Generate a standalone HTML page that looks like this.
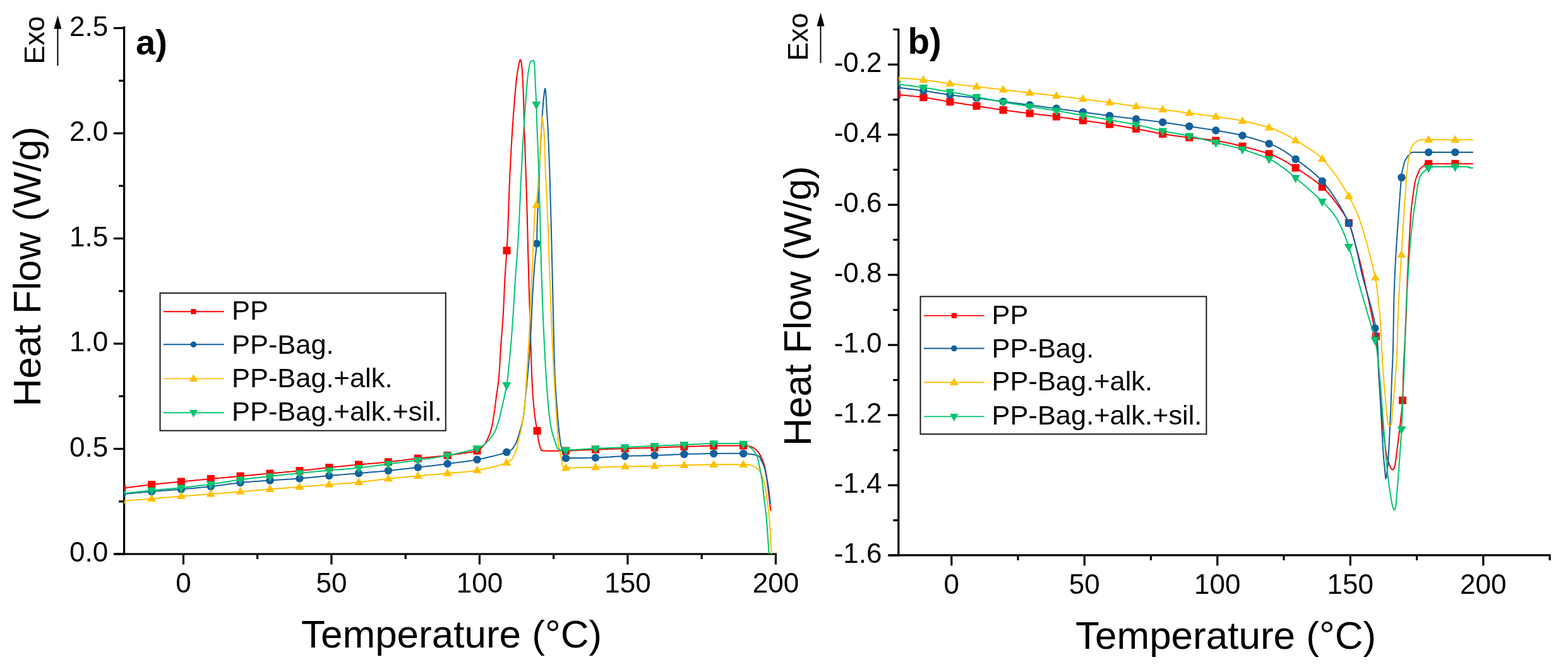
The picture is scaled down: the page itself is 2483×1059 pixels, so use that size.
<!DOCTYPE html>
<html><head><meta charset="utf-8"><title>DSC curves</title>
<style>html,body{margin:0;padding:0;background:#fff;}svg{display:block;}</style></head>
<body><svg width="2483" height="1059" viewBox="0 0 2483 1059" font-family='"Liberation Sans", Arial, sans-serif' fill="#000">
<rect width="2483" height="1059" fill="#fff"/>
<defs><clipPath id="ca"><rect x="196.6" y="30" width="1032" height="847"/></clipPath><clipPath id="cb"><rect x="1422.8" y="30" width="1032" height="849"/></clipPath></defs>
<line x1="196.6" y1="41.75" x2="196.6" y2="878.5" stroke="#000" stroke-width="3.2"/>
<line x1="181.6" y1="877.0" x2="1229.9" y2="877.0" stroke="#000" stroke-width="3.2"/>
<line x1="179.79999999999998" y1="877.0" x2="196.6" y2="877.0" stroke="#000" stroke-width="3.2"/>
<text x="171.2" y="889.0" text-anchor="end" font-size="44">0.0</text>
<line x1="179.79999999999998" y1="710.5" x2="196.6" y2="710.5" stroke="#000" stroke-width="3.2"/>
<text x="171.2" y="722.5" text-anchor="end" font-size="44">0.5</text>
<line x1="179.79999999999998" y1="544.0" x2="196.6" y2="544.0" stroke="#000" stroke-width="3.2"/>
<text x="171.2" y="556.0" text-anchor="end" font-size="44">1.0</text>
<line x1="179.79999999999998" y1="377.5" x2="196.6" y2="377.5" stroke="#000" stroke-width="3.2"/>
<text x="171.2" y="389.5" text-anchor="end" font-size="44">1.5</text>
<line x1="179.79999999999998" y1="211.0" x2="196.6" y2="211.0" stroke="#000" stroke-width="3.2"/>
<text x="171.2" y="223.0" text-anchor="end" font-size="44">2.0</text>
<line x1="179.79999999999998" y1="44.5" x2="196.6" y2="44.5" stroke="#000" stroke-width="3.2"/>
<text x="171.2" y="56.5" text-anchor="end" font-size="44">2.5</text>
<line x1="188.1" y1="793.8" x2="196.6" y2="793.8" stroke="#000" stroke-width="3.2"/>
<line x1="188.1" y1="627.2" x2="196.6" y2="627.2" stroke="#000" stroke-width="3.2"/>
<line x1="188.1" y1="460.8" x2="196.6" y2="460.8" stroke="#000" stroke-width="3.2"/>
<line x1="188.1" y1="294.2" x2="196.6" y2="294.2" stroke="#000" stroke-width="3.2"/>
<line x1="188.1" y1="127.8" x2="196.6" y2="127.8" stroke="#000" stroke-width="3.2"/>
<line x1="290.4" y1="877.0" x2="290.4" y2="893.5" stroke="#000" stroke-width="3.2"/>
<text x="290.4" y="938.3" text-anchor="middle" font-size="44">0</text>
<line x1="524.9" y1="877.0" x2="524.9" y2="893.5" stroke="#000" stroke-width="3.2"/>
<text x="524.9" y="938.3" text-anchor="middle" font-size="44">50</text>
<line x1="759.4" y1="877.0" x2="759.4" y2="893.5" stroke="#000" stroke-width="3.2"/>
<text x="759.4" y="938.3" text-anchor="middle" font-size="44">100</text>
<line x1="993.9" y1="877.0" x2="993.9" y2="893.5" stroke="#000" stroke-width="3.2"/>
<text x="993.9" y="938.3" text-anchor="middle" font-size="44">150</text>
<line x1="1228.4" y1="877.0" x2="1228.4" y2="893.5" stroke="#000" stroke-width="3.2"/>
<text x="1228.4" y="938.3" text-anchor="middle" font-size="44">200</text>
<line x1="407.6" y1="877.0" x2="407.6" y2="885.0" stroke="#000" stroke-width="3.2"/>
<line x1="642.2" y1="877.0" x2="642.2" y2="885.0" stroke="#000" stroke-width="3.2"/>
<line x1="876.6" y1="877.0" x2="876.6" y2="885.0" stroke="#000" stroke-width="3.2"/>
<line x1="1111.2" y1="877.0" x2="1111.2" y2="885.0" stroke="#000" stroke-width="3.2"/>
<line x1="1422.8" y1="45.2" x2="1422.8" y2="880.4" stroke="#000" stroke-width="3.2"/>
<line x1="1407.8" y1="878.9" x2="2455.6" y2="878.9" stroke="#000" stroke-width="3.2"/>
<line x1="1406.0" y1="102.2" x2="1422.8" y2="102.2" stroke="#000" stroke-width="3.2"/>
<text x="1396.5" y="114.2" text-anchor="end" font-size="44">-0.2</text>
<line x1="1406.0" y1="213.2" x2="1422.8" y2="213.2" stroke="#000" stroke-width="3.2"/>
<text x="1396.5" y="225.2" text-anchor="end" font-size="44">-0.4</text>
<line x1="1406.0" y1="324.2" x2="1422.8" y2="324.2" stroke="#000" stroke-width="3.2"/>
<text x="1396.5" y="336.2" text-anchor="end" font-size="44">-0.6</text>
<line x1="1406.0" y1="435.1" x2="1422.8" y2="435.1" stroke="#000" stroke-width="3.2"/>
<text x="1396.5" y="447.1" text-anchor="end" font-size="44">-0.8</text>
<line x1="1406.0" y1="546.1" x2="1422.8" y2="546.1" stroke="#000" stroke-width="3.2"/>
<text x="1396.5" y="558.1" text-anchor="end" font-size="44">-1.0</text>
<line x1="1406.0" y1="657.1" x2="1422.8" y2="657.1" stroke="#000" stroke-width="3.2"/>
<text x="1396.5" y="669.1" text-anchor="end" font-size="44">-1.2</text>
<line x1="1406.0" y1="768.1" x2="1422.8" y2="768.1" stroke="#000" stroke-width="3.2"/>
<text x="1396.5" y="780.1" text-anchor="end" font-size="44">-1.4</text>
<line x1="1406.0" y1="879.1" x2="1422.8" y2="879.1" stroke="#000" stroke-width="3.2"/>
<text x="1396.5" y="891.1" text-anchor="end" font-size="44">-1.6</text>
<line x1="1414.3" y1="46.7" x2="1422.8" y2="46.7" stroke="#000" stroke-width="3.2"/>
<line x1="1414.3" y1="157.7" x2="1422.8" y2="157.7" stroke="#000" stroke-width="3.2"/>
<line x1="1414.3" y1="268.7" x2="1422.8" y2="268.7" stroke="#000" stroke-width="3.2"/>
<line x1="1414.3" y1="379.6" x2="1422.8" y2="379.6" stroke="#000" stroke-width="3.2"/>
<line x1="1414.3" y1="490.6" x2="1422.8" y2="490.6" stroke="#000" stroke-width="3.2"/>
<line x1="1414.3" y1="601.6" x2="1422.8" y2="601.6" stroke="#000" stroke-width="3.2"/>
<line x1="1414.3" y1="712.6" x2="1422.8" y2="712.6" stroke="#000" stroke-width="3.2"/>
<line x1="1414.3" y1="823.6" x2="1422.8" y2="823.6" stroke="#000" stroke-width="3.2"/>
<line x1="1506.8" y1="878.9" x2="1506.8" y2="895.4" stroke="#000" stroke-width="3.2"/>
<text x="1506.8" y="940.0" text-anchor="middle" font-size="44">0</text>
<line x1="1717.3" y1="878.9" x2="1717.3" y2="895.4" stroke="#000" stroke-width="3.2"/>
<text x="1717.3" y="940.0" text-anchor="middle" font-size="44">50</text>
<line x1="1927.8" y1="878.9" x2="1927.8" y2="895.4" stroke="#000" stroke-width="3.2"/>
<text x="1927.8" y="940.0" text-anchor="middle" font-size="44">100</text>
<line x1="2138.3" y1="878.9" x2="2138.3" y2="895.4" stroke="#000" stroke-width="3.2"/>
<text x="2138.3" y="940.0" text-anchor="middle" font-size="44">150</text>
<line x1="2348.8" y1="878.9" x2="2348.8" y2="895.4" stroke="#000" stroke-width="3.2"/>
<text x="2348.8" y="940.0" text-anchor="middle" font-size="44">200</text>
<line x1="1612.0" y1="878.9" x2="1612.0" y2="886.9" stroke="#000" stroke-width="3.2"/>
<line x1="1822.5" y1="878.9" x2="1822.5" y2="886.9" stroke="#000" stroke-width="3.2"/>
<line x1="2033.0" y1="878.9" x2="2033.0" y2="886.9" stroke="#000" stroke-width="3.2"/>
<line x1="2243.6" y1="878.9" x2="2243.6" y2="886.9" stroke="#000" stroke-width="3.2"/>
<line x1="2454.1" y1="878.9" x2="2454.1" y2="886.9" stroke="#000" stroke-width="3.2"/>
<g clip-path="url(#ca)">
<polyline points="197.0,772.5 198.1,772.4 199.4,772.2 200.9,772.0 202.4,771.8 204.2,771.5 206.0,771.3 208.0,771.0 210.1,770.8 212.2,770.5 214.4,770.2 216.7,769.9 219.0,769.6 221.4,769.3 223.8,769.0 226.2,768.7 228.6,768.4 230.9,768.1 233.3,767.8 235.6,767.5 237.8,767.2 240.0,767.0 242.0,766.8 243.9,766.6 245.9,766.4 247.9,766.2 250.0,766.0 252.0,765.8 254.0,765.6 256.1,765.4 258.1,765.2 260.2,765.0 262.2,764.8 264.3,764.6 266.4,764.4 268.4,764.2 270.5,764.0 272.6,763.8 274.6,763.6 276.7,763.5 278.8,763.3 280.8,763.1 282.9,762.9 285.0,762.7 287.0,762.5 289.0,762.3 291.1,762.1 293.1,761.9 295.2,761.7 297.2,761.5 299.3,761.3 301.3,761.1 303.3,760.9 305.4,760.7 307.4,760.5 309.5,760.3 311.5,760.1 313.6,759.9 315.6,759.7 317.7,759.6 319.7,759.4 321.7,759.2 323.8,759.0 325.8,758.8 327.9,758.6 329.9,758.4 332.0,758.2 334.0,758.0 336.0,757.8 338.1,757.6 340.1,757.4 342.2,757.2 344.2,757.1 346.3,756.9 348.3,756.7 350.4,756.5 352.4,756.3 354.5,756.1 356.5,755.9 358.6,755.7 360.6,755.6 362.7,755.4 364.7,755.2 366.8,755.0 368.8,754.8 370.8,754.6 372.9,754.4 374.9,754.3 376.9,754.1 379.0,753.9 381.0,753.7 383.0,753.5 385.0,753.3 387.0,753.1 389.0,753.0 391.0,752.8 393.0,752.6 395.0,752.4 397.0,752.2 399.0,752.1 401.0,751.9 403.0,751.7 405.0,751.5 406.9,751.3 408.9,751.1 410.9,751.0 412.9,750.8 414.9,750.6 416.9,750.4 418.9,750.2 420.9,750.1 422.9,749.9 425.0,749.7 427.0,749.5 429.0,749.3 431.1,749.1 433.1,749.0 435.2,748.8 437.2,748.6 439.3,748.4 441.4,748.2 443.5,748.0 445.5,747.9 447.6,747.7 449.7,747.5 451.8,747.3 453.8,747.1 455.9,747.0 458.0,746.8 460.1,746.6 462.2,746.4 464.2,746.2 466.3,746.0 468.4,745.8 470.5,745.6 472.5,745.4 474.6,745.2 476.7,745.0 478.7,744.8 480.8,744.6 482.8,744.3 484.9,744.1 487.0,743.9 489.0,743.7 491.1,743.4 493.2,743.2 495.2,743.0 497.3,742.7 499.3,742.5 501.4,742.3 503.5,742.0 505.5,741.8 507.6,741.6 509.6,741.3 511.6,741.1 513.7,740.9 515.7,740.7 517.7,740.4 519.8,740.2 521.8,740.0 523.8,739.8 525.8,739.6 527.8,739.4 529.8,739.2 531.8,739.0 533.8,738.8 535.8,738.6 537.8,738.4 539.8,738.2 541.7,738.0 543.7,737.8 545.7,737.6 547.7,737.4 549.6,737.2 551.6,737.0 553.6,736.8 555.6,736.6 557.6,736.4 559.6,736.3 561.6,736.1 563.6,735.9 565.6,735.7 567.6,735.5 569.6,735.3 571.7,735.1 573.7,734.9 575.7,734.8 577.8,734.6 579.8,734.4 581.9,734.2 583.9,734.1 586.0,733.9 588.0,733.7 590.1,733.6 592.2,733.4 594.2,733.2 596.3,733.0 598.4,732.9 600.4,732.7 602.5,732.5 604.5,732.3 606.6,732.1 608.7,731.9 610.7,731.7 612.8,731.5 614.8,731.3 616.8,731.1 618.9,730.9 620.9,730.6 623.0,730.4 625.0,730.1 627.0,729.9 629.1,729.6 631.1,729.4 633.1,729.1 635.2,728.9 637.2,728.6 639.2,728.4 641.2,728.1 643.3,727.8 645.3,727.6 647.3,727.3 649.4,727.1 651.4,726.8 653.4,726.6 655.5,726.3 657.5,726.1 659.6,725.8 661.6,725.6 663.7,725.4 665.7,725.2 667.9,724.9 670.0,724.7 672.1,724.5 674.3,724.3 676.5,724.1 678.6,723.9 680.8,723.7 682.9,723.5 685.1,723.3 687.2,723.1 689.4,722.9 691.5,722.7 693.6,722.5 695.6,722.3 697.6,722.1 699.6,721.9 701.5,721.7 703.4,721.5 705.3,721.3 707.1,721.1 708.8,720.9 711.4,720.6 713.9,720.3 716.3,720.0 718.7,719.6 721.0,719.3 723.2,719.0 725.3,718.7 727.4,718.4 729.4,718.1 731.4,717.8 733.2,717.5 735.0,717.2 736.7,716.9 738.4,716.7 740.0,716.4 743.1,715.9 745.8,715.5 748.2,715.2 750.2,714.8 752.1,714.5 753.8,714.0 755.5,713.5 757.9,712.4 759.8,711.2 761.3,709.7 763.0,708.0 764.5,706.5 765.9,704.9 767.3,703.1 768.7,701.0 770.2,698.5 771.0,696.9 771.9,695.1 772.8,693.3 773.7,691.3 774.5,689.2 775.4,687.1 776.2,684.8 777.0,682.4 777.7,680.0 778.2,678.3 778.6,676.4 779.0,674.6 779.4,672.6 779.8,670.6 780.2,668.6 780.5,666.6 780.9,664.5 781.2,662.4 781.5,660.3 781.8,658.2 782.2,656.1 782.5,654.0 782.8,652.1 783.1,650.1 783.4,648.2 783.6,646.2 783.9,644.2 784.2,642.2 784.4,640.2 784.7,638.2 784.9,636.2 785.2,634.1 785.4,632.1 785.7,630.1 785.9,628.0 786.2,626.0 786.5,624.0 786.7,622.1 787.0,620.3 787.3,618.5 787.6,616.7 787.8,614.9 788.1,613.1 788.4,611.2 788.7,609.2 788.9,607.1 789.2,604.8 789.5,602.4 789.7,599.8 790.0,597.0 790.1,595.4 790.3,593.7 790.4,591.9 790.5,590.1 790.7,588.2 790.8,586.3 790.9,584.3 791.1,582.2 791.2,580.1 791.3,578.0 791.5,575.9 791.6,573.7 791.7,571.5 791.9,569.3 792.0,567.1 792.1,564.9 792.2,562.7 792.4,560.5 792.5,558.4 792.6,556.2 792.8,554.1 792.9,552.0 793.0,549.9 793.1,547.9 793.3,545.9 793.4,544.0 793.6,541.8 793.7,539.6 793.9,537.5 794.0,535.4 794.2,533.4 794.3,531.3 794.5,529.3 794.7,527.4 794.8,525.4 795.0,523.4 795.1,521.5 795.3,519.5 795.5,517.5 795.6,515.5 795.8,513.5 795.9,511.5 796.1,509.4 796.2,507.3 796.4,505.2 796.5,503.0 796.7,500.8 796.8,498.5 796.9,496.7 797.0,494.8 797.1,492.9 797.2,490.9 797.3,488.9 797.4,486.9 797.5,484.9 797.6,482.8 797.7,480.8 797.8,478.7 797.9,476.6 798.0,474.5 798.1,472.4 798.2,470.2 798.3,468.1 798.4,466.0 798.5,463.9 798.5,461.8 798.6,459.7 798.7,457.7 798.8,455.6 798.9,453.6 799.0,451.6 799.1,449.6 799.2,447.6 799.3,445.7 799.4,443.8 799.5,442.0 799.6,439.7 799.8,437.4 799.9,435.2 800.0,432.9 800.2,430.7 800.3,428.6 800.5,426.4 800.6,424.3 800.8,422.1 800.9,420.1 801.1,418.0 801.2,415.9 801.3,413.9 801.5,411.9 801.6,409.9 801.8,408.0 801.9,406.0 802.0,404.1 802.1,402.2 802.3,400.3 802.4,398.4 802.5,396.6 802.6,394.3 802.8,392.2 802.9,390.2 803.0,388.3 803.1,386.4 803.2,384.7 803.3,382.9 803.4,381.2 803.5,379.4 803.6,377.6 803.7,375.7 803.8,373.7 803.9,371.5 804.0,369.2 804.1,366.7 804.2,364.0 804.3,361.0 804.4,359.4 804.4,357.8 804.5,356.1 804.6,354.4 804.6,352.6 804.7,350.8 804.7,348.9 804.8,347.0 804.9,345.1 804.9,343.1 805.0,341.1 805.1,339.1 805.2,337.0 805.2,334.9 805.3,332.8 805.4,330.7 805.4,328.6 805.5,326.4 805.6,324.2 805.7,322.0 805.7,319.8 805.8,317.6 805.9,315.4 806.0,313.2 806.0,311.0 806.1,308.8 806.2,306.6 806.3,304.4 806.4,302.2 806.4,300.0 806.5,297.9 806.6,295.7 806.7,293.6 806.8,291.5 806.9,289.5 807.0,287.5 807.1,285.5 807.2,283.5 807.2,281.5 807.3,279.5 807.4,277.4 807.5,275.4 807.6,273.3 807.7,271.2 807.8,269.2 807.9,267.1 808.0,265.0 808.1,263.0 808.2,260.9 808.3,258.8 808.4,256.8 808.5,254.7 808.6,252.6 808.7,250.6 808.9,248.5 809.0,246.5 809.1,244.4 809.2,242.4 809.3,240.4 809.4,238.4 809.5,236.4 809.6,234.4 809.7,232.4 809.8,230.4 809.9,228.5 810.1,226.5 810.2,224.6 810.3,222.7 810.4,220.9 810.5,219.0 810.6,216.8 810.8,214.6 810.9,212.3 811.1,210.1 811.2,207.9 811.3,205.7 811.5,203.5 811.6,201.3 811.8,199.1 811.9,196.9 812.1,194.8 812.2,192.6 812.4,190.5 812.5,188.4 812.7,186.3 812.8,184.2 813.0,182.2 813.1,180.2 813.3,178.2 813.4,176.2 813.6,174.3 813.7,172.4 813.9,170.5 814.0,168.7 814.1,166.9 814.3,165.1 814.4,163.4 814.5,161.7 814.7,160.1 814.8,158.5 815.0,155.6 815.3,152.9 815.5,150.3 815.7,147.8 815.9,145.5 816.1,143.2 816.3,141.1 816.5,139.0 816.7,137.1 816.9,135.2 817.1,133.3 817.3,131.6 817.5,129.9 817.6,128.2 817.8,126.6 818.0,125.0 818.3,122.0 818.7,119.4 819.0,117.1 819.3,115.0 819.6,113.1 819.9,111.4 820.2,109.7 820.5,108.0 820.9,105.4 821.4,103.2 821.8,101.2 822.1,99.5 822.5,98.0 823.3,95.3 824.1,94.5 824.8,95.7 825.5,99.0 825.7,100.4 826.0,101.9 826.2,103.6 826.4,105.8 826.6,108.5 826.9,112.0 827.0,113.4 827.1,115.0 827.2,116.5 827.3,118.2 827.4,120.0 827.5,121.8 827.6,123.7 827.7,125.7 827.8,127.7 828.0,129.8 828.1,132.0 828.2,134.2 828.3,136.6 828.4,139.0 828.5,141.4 828.6,143.9 828.7,146.5 828.8,148.2 828.8,149.9 828.9,151.6 828.9,153.4 829.0,155.3 829.0,157.1 829.1,159.0 829.1,160.9 829.2,162.9 829.3,164.9 829.3,166.9 829.4,168.9 829.4,171.0 829.5,173.1 829.5,175.2 829.6,177.3 829.6,179.4 829.7,181.5 829.7,183.6 829.8,185.8 829.8,187.9 829.9,190.1 829.9,192.2 830.0,194.4 830.1,196.5 830.1,198.7 830.2,200.8 830.3,202.7 830.3,204.6 830.4,206.5 830.4,208.4 830.5,210.4 830.6,212.3 830.6,214.2 830.7,216.1 830.8,218.0 830.8,220.0 830.9,221.9 831.0,223.8 831.1,225.8 831.1,227.8 831.2,229.7 831.3,231.7 831.3,233.7 831.4,235.7 831.5,237.7 831.6,239.8 831.6,241.9 831.7,243.9 831.8,246.0 831.9,248.1 831.9,250.3 832.0,252.4 832.1,254.6 832.2,256.8 832.2,259.0 832.3,261.3 832.4,263.2 832.4,265.0 832.5,266.9 832.6,268.9 832.6,270.8 832.7,272.8 832.7,274.8 832.8,276.9 832.9,278.9 833.0,281.0 833.0,283.0 833.1,285.1 833.2,287.2 833.2,289.3 833.3,291.4 833.4,293.6 833.4,295.7 833.5,297.8 833.6,299.9 833.6,302.1 833.7,304.2 833.8,306.3 833.8,308.5 833.9,310.6 834.0,312.7 834.0,314.8 834.1,316.9 834.2,319.0 834.2,321.0 834.3,323.1 834.4,325.1 834.4,327.1 834.5,329.1 834.5,331.1 834.6,333.0 834.6,334.9 834.7,336.8 834.8,339.0 834.8,341.2 834.9,343.4 834.9,345.5 835.0,347.7 835.0,349.8 835.1,351.9 835.1,354.0 835.2,356.0 835.2,358.1 835.3,360.1 835.3,362.1 835.4,364.1 835.4,366.1 835.5,368.1 835.5,370.1 835.6,372.1 835.6,374.0 835.6,376.0 835.7,378.0 835.7,380.0 835.8,381.9 835.8,383.9 835.9,385.9 835.9,387.9 836.0,389.9 836.0,391.9 836.0,393.9 836.1,395.9 836.1,397.9 836.2,400.0 836.3,402.0 836.3,404.0 836.4,406.0 836.4,408.1 836.5,410.1 836.5,412.1 836.6,414.2 836.6,416.2 836.7,418.3 836.7,420.3 836.8,422.4 836.9,424.4 836.9,426.5 837.0,428.6 837.0,430.6 837.1,432.7 837.1,434.7 837.2,436.8 837.3,438.8 837.3,440.8 837.4,442.9 837.4,444.9 837.5,446.9 837.5,448.9 837.6,450.9 837.7,452.9 837.7,454.8 837.8,456.8 837.8,458.8 837.9,460.7 837.9,462.6 838.0,464.5 838.1,466.7 838.1,468.8 838.2,470.9 838.3,473.0 838.3,475.1 838.4,477.1 838.5,479.2 838.5,481.2 838.6,483.2 838.6,485.2 838.7,487.2 838.8,489.2 838.8,491.2 838.9,493.1 839.0,495.1 839.0,497.1 839.1,499.1 839.2,501.0 839.2,503.0 839.3,505.0 839.4,507.0 839.4,509.0 839.5,511.0 839.5,513.0 839.6,515.0 839.7,517.0 839.7,519.0 839.8,521.1 839.9,523.1 839.9,525.1 840.0,527.2 840.0,529.3 840.1,531.4 840.2,533.5 840.2,535.6 840.3,537.7 840.4,539.8 840.4,542.0 840.5,544.1 840.5,546.3 840.6,548.4 840.7,550.5 840.7,552.6 840.8,554.8 840.8,556.9 840.9,558.9 841.0,561.0 841.0,563.0 841.1,565.1 841.2,567.0 841.2,569.0 841.3,570.9 841.3,572.8 841.4,574.7 841.5,576.5 841.5,578.3 841.6,580.0 841.7,582.4 841.8,584.8 841.9,587.1 842.0,589.3 842.0,591.4 842.1,593.5 842.2,595.6 842.3,597.6 842.4,599.6 842.5,601.5 842.6,603.4 842.7,605.3 842.7,607.1 842.8,609.0 842.9,610.8 843.0,612.6 843.2,614.5 843.3,616.3 843.4,618.1 843.5,620.0 843.6,622.2 843.8,624.4 843.9,626.6 844.1,628.7 844.3,630.9 844.4,633.0 844.6,635.2 844.8,637.3 845.0,639.4 845.1,641.4 845.3,643.4 845.5,645.4 845.7,647.4 845.9,649.4 846.1,651.3 846.3,653.2 846.5,655.0 846.8,657.4 847.1,659.7 847.4,661.9 847.7,664.2 848.1,666.3 848.4,668.5 848.7,670.5 849.1,672.6 849.4,674.5 849.7,676.5 850.0,678.4 850.3,680.2 850.6,682.0 851.0,684.5 851.3,686.9 851.6,689.2 851.9,691.5 852.2,693.6 852.5,695.6 852.8,697.5 853.2,699.3 853.5,701.0 854.2,703.8 854.8,706.2 855.5,708.3 856.3,710.1 857.0,711.5 857.0,713.1 861.0,713.5 862.2,713.6 863.6,713.6 865.2,713.7 866.8,713.7 868.6,713.7 870.6,713.8 872.6,713.8 874.7,713.8 876.9,713.8 879.2,713.8 881.5,713.8 883.8,713.8 886.2,713.8 888.7,713.7 891.1,713.7 893.6,713.7 896.0,713.6 897.8,713.6 899.7,713.5 901.6,713.4 903.5,713.4 905.5,713.3 907.5,713.2 909.6,713.1 911.6,713.0 913.7,712.9 915.8,712.8 918.0,712.7 920.1,712.6 922.2,712.5 924.4,712.4 926.6,712.3 928.7,712.2 930.9,712.1 933.0,712.0 935.1,711.9 937.3,711.8 939.4,711.7 941.4,711.6 943.5,711.5 945.5,711.4 947.6,711.3 949.6,711.3 951.6,711.2 953.7,711.1 955.7,711.1 957.7,711.0 959.7,710.9 961.7,710.9 963.8,710.8 965.8,710.7 967.8,710.7 969.8,710.6 971.8,710.6 973.8,710.5 975.8,710.4 977.9,710.4 979.9,710.3 981.9,710.2 983.9,710.2 985.9,710.1 988.0,710.1 990.0,710.0 992.0,709.9 994.1,709.9 996.1,709.8 998.1,709.8 1000.2,709.7 1002.2,709.6 1004.3,709.6 1006.3,709.5 1008.4,709.5 1010.4,709.4 1012.5,709.3 1014.5,709.3 1016.6,709.2 1018.6,709.2 1020.7,709.1 1022.7,709.0 1024.7,709.0 1026.8,708.9 1028.8,708.9 1030.9,708.8 1032.9,708.7 1035.0,708.7 1037.0,708.6 1039.0,708.5 1041.1,708.5 1043.1,708.4 1045.1,708.3 1047.2,708.3 1049.2,708.2 1051.2,708.1 1053.3,708.0 1055.3,708.0 1057.3,707.9 1059.4,707.8 1061.4,707.8 1063.4,707.7 1065.5,707.6 1067.5,707.5 1069.5,707.5 1071.6,707.4 1073.6,707.3 1075.6,707.3 1077.6,707.2 1079.7,707.1 1081.7,707.1 1083.7,707.0 1085.7,706.9 1087.7,706.9 1089.7,706.8 1091.8,706.7 1093.8,706.7 1095.8,706.6 1097.8,706.5 1099.8,706.5 1101.8,706.4 1103.8,706.4 1105.8,706.3 1107.8,706.2 1109.8,706.2 1111.8,706.1 1113.8,706.1 1115.8,706.0 1117.8,706.0 1119.8,705.9 1121.9,705.9 1123.9,705.8 1125.9,705.8 1128.0,705.7 1130.0,705.7 1132.1,705.7 1134.2,705.6 1136.5,705.6 1138.7,705.6 1141.0,705.6 1143.4,705.6 1145.7,705.5 1148.1,705.5 1150.4,705.5 1152.8,705.5 1155.1,705.5 1157.4,705.5 1159.7,705.5 1161.9,705.5 1164.0,705.5 1166.1,705.5 1168.1,705.5 1170.0,705.5 1171.8,705.5 1173.5,705.5 1175.0,705.5 1176.4,705.5 1177.7,705.5 1183.0,705.5 1183.9,705.5 1185.0,706.0 1186.9,706.5 1189.0,707.2 1191.1,708.0 1193.2,709.0 1195.0,710.0 1196.9,711.5 1198.7,713.2 1200.2,715.1 1201.6,717.0 1202.9,718.8 1203.9,720.7 1204.9,722.7 1206.0,725.0 1206.8,726.7 1207.5,728.6 1208.3,730.6 1209.1,732.6 1209.8,734.8 1210.5,737.0 1211.0,739.0 1211.5,741.0 1211.9,743.0 1212.3,745.1 1212.7,747.3 1213.1,749.6 1213.5,752.0 1213.8,753.9 1214.1,755.9 1214.3,758.0 1214.6,760.1 1214.9,762.2 1215.1,764.4 1215.4,766.6 1215.6,768.8 1215.9,771.0 1216.2,773.0 1216.4,775.1 1216.7,777.3 1217.0,779.5 1217.2,781.6 1217.5,783.8 1217.8,786.0 1218.0,788.0 1218.3,790.1 1218.5,792.0 1218.8,794.4 1219.1,796.8 1219.3,799.3 1219.6,801.6 1219.9,803.8 1220.1,805.7 1220.3,807.3 1220.4,808.6" fill="none" stroke="#FF0000" stroke-width="2" stroke-linejoin="round" stroke-linecap="butt"/>
<rect x="187.2" y="767.0" width="12.0" height="12.0" fill="#FF0000"/><rect x="234.1" y="761.0" width="12.0" height="12.0" fill="#FF0000"/><rect x="280.9" y="756.5" width="12.0" height="12.0" fill="#FF0000"/><rect x="327.8" y="752.0" width="12.0" height="12.0" fill="#FF0000"/><rect x="374.6" y="747.7" width="12.0" height="12.0" fill="#FF0000"/><rect x="421.5" y="743.5" width="12.0" height="12.0" fill="#FF0000"/><rect x="468.4" y="739.2" width="12.0" height="12.0" fill="#FF0000"/><rect x="515.2" y="734.1" width="12.0" height="12.0" fill="#FF0000"/><rect x="562.0" y="729.5" width="12.0" height="12.0" fill="#FF0000"/><rect x="608.9" y="725.3" width="12.0" height="12.0" fill="#FF0000"/><rect x="655.8" y="719.6" width="12.0" height="12.0" fill="#FF0000"/><rect x="702.6" y="714.9" width="12.0" height="12.0" fill="#FF0000"/><rect x="749.5" y="707.5" width="12.0" height="12.0" fill="#FF0000"/><rect x="796.5" y="390.6" width="12.0" height="12.0" fill="#FF0000"/><rect x="844.6" y="676.0" width="12.0" height="12.0" fill="#FF0000"/><rect x="890.0" y="707.6" width="12.0" height="12.0" fill="#FF0000"/><rect x="936.9" y="705.5" width="12.0" height="12.0" fill="#FF0000"/><rect x="983.7" y="704.0" width="12.0" height="12.0" fill="#FF0000"/><rect x="1030.5" y="702.6" width="12.0" height="12.0" fill="#FF0000"/><rect x="1077.4" y="701.0" width="12.0" height="12.0" fill="#FF0000"/><rect x="1124.2" y="699.7" width="12.0" height="12.0" fill="#FF0000"/><rect x="1171.1" y="699.5" width="12.0" height="12.0" fill="#FF0000"/>
<polyline points="197.0,782.0 198.1,781.9 199.4,781.8 200.9,781.6 202.4,781.5 204.2,781.3 206.0,781.1 208.0,780.9 210.1,780.7 212.2,780.5 214.4,780.3 216.7,780.1 219.0,779.9 221.4,779.7 223.8,779.4 226.2,779.2 228.6,779.0 230.9,778.8 233.3,778.6 235.6,778.4 237.8,778.2 240.0,778.0 242.0,777.8 243.9,777.7 245.9,777.5 247.9,777.4 250.0,777.2 252.0,777.1 254.0,776.9 256.1,776.8 258.1,776.6 260.2,776.5 262.2,776.4 264.3,776.2 266.4,776.1 268.4,775.9 270.5,775.8 272.6,775.6 274.6,775.5 276.7,775.3 278.8,775.2 280.8,775.0 282.9,774.8 285.0,774.7 287.0,774.5 289.0,774.3 291.1,774.2 293.1,774.0 295.2,773.8 297.2,773.6 299.3,773.4 301.3,773.3 303.4,773.1 305.4,772.9 307.4,772.7 309.5,772.5 311.5,772.3 313.6,772.1 315.6,771.9 317.7,771.7 319.7,771.5 321.8,771.3 323.8,771.1 325.8,770.9 327.9,770.7 329.9,770.4 332.0,770.2 334.0,770.0 336.0,769.8 338.1,769.5 340.1,769.3 342.2,769.0 344.2,768.7 346.2,768.5 348.3,768.2 350.3,767.9 352.4,767.6 354.4,767.4 356.4,767.1 358.5,766.8 360.5,766.5 362.5,766.2 364.6,766.0 366.6,765.7 368.6,765.4 370.7,765.2 372.7,764.9 374.7,764.7 376.8,764.4 378.8,764.2 380.8,764.0 382.8,763.8 384.8,763.6 386.8,763.4 388.9,763.2 390.9,763.1 392.9,762.9 394.9,762.7 396.9,762.6 398.9,762.4 400.9,762.3 402.9,762.1 404.8,762.0 406.8,761.9 408.8,761.7 410.9,761.6 412.9,761.5 414.9,761.3 416.9,761.2 418.9,761.1 420.9,760.9 422.9,760.8 425.0,760.6 427.0,760.5 429.0,760.4 431.1,760.2 433.1,760.1 435.2,760.0 437.3,759.8 439.3,759.7 441.4,759.6 443.5,759.4 445.5,759.3 447.6,759.2 449.7,759.1 451.8,758.9 453.9,758.8 455.9,758.7 458.0,758.6 460.1,758.4 462.2,758.3 464.3,758.2 466.3,758.0 468.4,757.9 470.5,757.7 472.5,757.6 474.6,757.4 476.7,757.2 478.7,757.1 480.8,756.9 482.8,756.7 484.9,756.5 487.0,756.3 489.0,756.1 491.1,755.9 493.2,755.7 495.2,755.5 497.3,755.3 499.3,755.1 501.4,754.9 503.5,754.7 505.5,754.5 507.6,754.3 509.6,754.1 511.6,753.9 513.7,753.7 515.7,753.6 517.7,753.4 519.8,753.2 521.8,753.0 523.9,752.8 526.0,752.6 528.1,752.5 530.2,752.3 532.3,752.1 534.4,751.9 536.4,751.8 538.5,751.6 540.6,751.4 542.6,751.3 544.7,751.1 546.8,750.9 548.8,750.8 550.9,750.6 553.0,750.4 555.0,750.2 557.1,750.1 559.2,749.9 561.3,749.7 563.4,749.6 565.5,749.4 567.6,749.2 569.6,749.0 571.7,748.9 573.7,748.7 575.7,748.5 577.8,748.3 579.8,748.2 581.9,748.0 583.9,747.8 586.0,747.6 588.0,747.5 590.1,747.3 592.2,747.1 594.2,746.9 596.3,746.7 598.4,746.6 600.4,746.4 602.5,746.2 604.5,746.0 606.6,745.8 608.7,745.6 610.7,745.4 612.8,745.2 614.8,745.0 616.8,744.8 618.9,744.6 620.9,744.4 623.0,744.2 625.0,743.9 627.0,743.7 629.1,743.5 631.1,743.3 633.1,743.1 635.2,742.8 637.2,742.6 639.2,742.4 641.2,742.1 643.3,741.9 645.3,741.7 647.3,741.5 649.4,741.2 651.4,741.0 653.4,740.7 655.5,740.5 657.5,740.3 659.6,740.0 661.6,739.8 663.6,739.6 665.7,739.3 667.7,739.1 669.8,738.8 671.8,738.6 673.9,738.4 676.0,738.1 678.0,737.9 680.1,737.6 682.1,737.4 684.2,737.2 686.2,736.9 688.3,736.7 690.3,736.4 692.4,736.2 694.5,735.9 696.5,735.7 698.6,735.4 700.6,735.2 702.7,734.9 704.7,734.6 706.8,734.4 708.8,734.1 710.8,733.8 712.9,733.6 714.9,733.3 717.0,733.1 719.0,732.8 721.0,732.6 723.0,732.3 725.1,732.1 727.1,731.8 729.1,731.6 731.2,731.3 733.2,731.0 735.2,730.8 737.2,730.5 739.3,730.2 741.3,729.9 743.3,729.6 745.4,729.3 747.4,729.0 749.4,728.6 751.4,728.3 753.5,727.9 755.5,727.5 757.5,727.1 759.5,726.7 761.6,726.3 763.7,725.8 765.8,725.4 768.0,724.9 770.2,724.5 772.3,724.0 774.5,723.5 776.7,723.0 778.9,722.5 781.0,722.0 783.1,721.4 785.2,720.9 787.2,720.4 789.2,719.9 791.1,719.4 793.0,718.8 794.7,718.3 796.4,717.8 798.1,717.3 799.6,716.8 801.0,716.3 802.3,715.8 805.6,714.4 808.1,713.1 810.0,711.8 811.4,710.6 812.4,709.2 813.4,707.7 814.4,706.1 815.5,704.2 816.4,702.7 817.2,701.0 818.0,699.2 818.7,697.4 819.4,695.5 820.0,693.5 820.6,691.5 821.2,689.5 821.8,687.4 822.4,685.4 823.0,683.4 823.6,681.5 824.2,679.6 824.7,677.7 825.3,675.9 825.8,674.0 826.3,672.1 826.8,670.1 827.3,668.0 827.8,665.7 828.3,663.4 828.7,660.8 829.0,659.1 829.2,657.4 829.5,655.5 829.7,653.6 829.9,651.6 830.1,649.5 830.4,647.5 830.6,645.3 830.8,643.2 831.0,641.1 831.2,638.9 831.4,636.8 831.6,634.7 831.8,632.6 831.9,630.6 832.1,628.6 832.3,626.7 832.5,624.9 832.7,622.7 833.0,620.5 833.2,618.4 833.4,616.4 833.6,614.4 833.8,612.4 834.0,610.5 834.2,608.6 834.3,606.6 834.5,604.7 834.7,602.7 834.9,600.7 835.1,598.7 835.3,596.6 835.5,594.6 835.7,592.6 835.8,590.7 836.0,588.7 836.2,586.8 836.4,584.8 836.6,582.8 836.7,580.8 836.9,578.7 837.1,576.6 837.3,574.4 837.5,572.2 837.6,569.9 837.8,567.5 838.0,565.0 838.1,563.2 838.3,561.4 838.4,559.5 838.5,557.6 838.7,555.7 838.8,553.7 838.9,551.7 839.1,549.7 839.2,547.7 839.3,545.7 839.5,543.6 839.6,541.4 839.7,539.3 839.9,537.1 840.0,534.9 840.1,532.7 840.3,530.4 840.4,528.1 840.5,525.8 840.7,523.5 840.8,521.1 840.9,519.3 841.0,517.4 841.1,515.5 841.2,513.6 841.3,511.6 841.4,509.6 841.5,507.6 841.6,505.5 841.7,503.4 841.8,501.3 841.9,499.2 841.9,497.1 842.0,495.0 842.1,492.8 842.2,490.7 842.3,488.6 842.4,486.5 842.5,484.3 842.6,482.2 842.7,480.2 842.8,478.1 842.9,476.1 843.0,474.0 843.1,472.1 843.2,470.1 843.3,468.2 843.4,466.3 843.5,464.5 843.6,462.2 843.8,460.0 843.9,457.7 844.0,455.5 844.2,453.4 844.3,451.2 844.4,449.1 844.6,447.0 844.7,444.9 844.8,442.9 845.0,440.9 845.1,438.9 845.2,436.9 845.4,434.9 845.5,433.0 845.6,431.1 845.8,429.2 845.9,427.3 846.1,425.5 846.2,423.6 846.4,421.8 846.5,420.0 846.7,417.7 846.9,415.5 847.1,413.3 847.3,411.2 847.5,409.1 847.8,407.1 848.0,405.1 848.2,403.1 848.4,401.1 848.7,399.2 848.9,397.3 849.1,395.4 849.3,393.4 849.4,391.5 849.6,389.5 849.8,387.6 849.9,385.6 850.0,383.6 850.1,381.6 850.2,379.9 850.2,378.1 850.3,376.5 850.3,374.8 850.3,373.1 850.4,371.4 850.4,369.6 850.4,367.6 850.4,365.6 850.5,363.3 850.5,360.9 850.6,358.2 850.7,355.3 850.8,352.0 850.9,350.5 850.9,348.9 851.0,347.2 851.1,345.5 851.1,343.7 851.2,341.8 851.3,339.9 851.4,337.9 851.4,335.9 851.5,333.8 851.6,331.7 851.7,329.5 851.8,327.3 851.9,325.1 852.0,322.9 852.1,320.6 852.2,318.4 852.3,316.1 852.4,313.8 852.5,311.5 852.6,309.2 852.7,306.9 852.8,304.7 852.9,302.4 853.0,300.2 853.1,298.0 853.2,295.8 853.3,293.6 853.4,291.5 853.4,289.4 853.5,287.4 853.6,285.4 853.7,283.5 853.8,281.6 853.9,279.8 853.9,278.1 854.0,276.4 854.1,273.7 854.2,271.2 854.3,268.7 854.4,266.4 854.5,264.2 854.6,262.0 854.7,259.9 854.7,257.9 854.8,256.0 854.9,254.1 855.0,252.2 855.0,250.3 855.1,248.5 855.2,246.7 855.3,244.8 855.3,243.0 855.4,241.1 855.5,239.2 855.6,237.2 855.7,235.2 855.8,233.2 855.9,231.0 856.0,229.0 856.1,227.0 856.2,225.0 856.3,222.9 856.4,220.8 856.6,218.6 856.7,216.5 856.8,214.3 856.9,212.1 857.0,209.9 857.2,207.7 857.3,205.5 857.4,203.3 857.5,201.1 857.7,198.9 857.8,196.8 857.9,194.7 858.1,192.7 858.2,190.6 858.3,188.7 858.4,186.8 858.6,184.9 858.7,183.1 858.8,181.4 858.9,179.7 859.1,176.9 859.3,174.2 859.5,171.6 859.7,169.1 859.9,166.7 860.1,164.4 860.3,162.3 860.5,160.2 860.6,158.3 860.8,156.4 861.0,154.7 861.2,153.0 861.3,151.5 861.5,150.0 861.9,146.4 862.3,143.5 862.7,141.5 863.0,140.3 863.3,140.0 863.5,140.6 863.8,142.0 864.0,143.9 864.2,146.4 864.4,149.1 864.6,152.0 864.7,153.6 864.8,155.4 865.0,157.2 865.1,159.0 865.2,161.0 865.3,163.1 865.4,165.3 865.6,167.6 865.7,169.9 865.8,172.4 866.0,175.0 866.1,176.7 866.2,178.5 866.3,180.4 866.4,182.3 866.6,184.3 866.7,186.3 866.8,188.3 866.9,190.4 867.1,192.5 867.2,194.6 867.3,196.8 867.4,199.0 867.5,201.2 867.7,203.4 867.8,205.6 867.9,207.8 868.0,210.0 868.1,211.9 868.2,213.8 868.3,215.7 868.3,217.7 868.4,219.6 868.5,221.6 868.6,223.6 868.7,225.6 868.8,227.6 868.8,229.6 868.9,231.6 869.0,233.7 869.1,235.7 869.1,237.7 869.2,239.8 869.3,241.8 869.4,243.9 869.4,245.9 869.5,248.0 869.6,250.0 869.7,252.0 869.7,253.9 869.8,255.8 869.9,257.6 869.9,259.4 870.0,261.2 870.1,262.9 870.1,264.7 870.2,266.5 870.3,268.3 870.3,270.2 870.4,272.2 870.5,274.2 870.5,276.3 870.6,278.5 870.7,280.8 870.8,283.3 870.8,285.8 870.9,288.6 871.0,291.5 871.0,293.1 871.1,294.7 871.1,296.3 871.2,298.0 871.2,299.8 871.3,301.5 871.3,303.3 871.4,305.2 871.4,307.1 871.5,309.0 871.5,310.9 871.6,312.9 871.7,314.9 871.7,316.9 871.8,318.9 871.8,321.0 871.9,323.1 871.9,325.2 872.0,327.3 872.0,329.4 872.1,331.5 872.2,333.7 872.2,335.9 872.3,338.0 872.3,340.2 872.4,342.4 872.4,344.5 872.5,346.7 872.6,348.9 872.6,351.0 872.7,353.2 872.7,355.3 872.8,357.5 872.8,359.6 872.9,361.7 872.9,363.8 873.0,365.9 873.0,368.0 873.1,370.0 873.1,372.0 873.2,373.9 873.2,375.8 873.3,377.7 873.3,379.6 873.4,381.5 873.4,383.4 873.5,385.2 873.5,387.1 873.6,388.9 873.6,390.7 873.7,392.6 873.7,394.4 873.7,396.2 873.8,398.0 873.8,399.9 873.9,401.7 873.9,403.5 874.0,405.4 874.0,407.2 874.0,409.1 874.1,411.0 874.1,412.9 874.2,414.9 874.2,416.8 874.3,418.8 874.3,420.8 874.4,422.8 874.4,424.9 874.5,427.0 874.5,429.1 874.6,431.3 874.6,433.4 874.7,435.7 874.7,438.0 874.8,440.3 874.8,442.6 874.9,445.0 874.9,447.5 875.0,450.0 875.0,451.7 875.1,453.4 875.1,455.2 875.2,457.0 875.2,458.8 875.3,460.7 875.3,462.6 875.3,464.6 875.4,466.6 875.4,468.6 875.5,470.6 875.5,472.7 875.6,474.8 875.6,476.9 875.7,479.1 875.7,481.3 875.8,483.4 875.8,485.6 875.9,487.9 875.9,490.1 876.0,492.3 876.0,494.6 876.1,496.8 876.1,499.1 876.2,501.4 876.2,503.7 876.3,505.9 876.3,508.2 876.4,510.5 876.4,512.8 876.5,515.0 876.5,517.3 876.6,519.6 876.7,521.8 876.7,524.0 876.8,526.3 876.8,528.5 876.9,530.6 876.9,532.8 877.0,535.0 877.0,537.1 877.1,539.2 877.1,541.3 877.2,543.3 877.2,545.4 877.3,547.4 877.3,549.3 877.3,551.2 877.4,553.1 877.4,555.0 877.5,556.8 877.5,558.6 877.6,560.3 877.6,562.0 877.7,563.7 877.7,565.3 877.7,566.8 877.8,568.3 877.8,569.8 877.9,571.2 877.9,572.5 878.0,576.7 878.1,580.3 878.2,583.4 878.3,586.1 878.4,588.4 878.4,590.5 878.5,592.2 878.5,593.8 878.6,595.2 878.7,596.5 878.7,597.7 878.8,599.0 878.9,600.3 879.0,601.8 879.1,603.4 879.2,605.3 879.3,607.5 879.5,610.0 879.6,611.7 879.7,613.4 879.8,615.2 880.0,617.1 880.1,619.0 880.2,621.0 880.4,623.1 880.5,625.2 880.7,627.3 880.8,629.4 881.0,631.6 881.1,633.8 881.3,636.0 881.5,638.2 881.6,640.5 881.8,642.7 882.0,644.9 882.1,647.1 882.3,649.2 882.5,651.4 882.6,653.5 882.8,655.6 883.0,657.6 883.1,659.6 883.3,661.5 883.4,663.3 883.6,665.1 883.7,666.8 883.9,668.5 884.0,670.0 884.3,672.9 884.5,675.6 884.8,678.2 885.0,680.6 885.3,682.8 885.5,685.0 885.7,687.0 886.0,688.9 886.2,690.6 886.4,692.3 886.6,694.0 886.8,695.5 887.1,697.1 887.3,698.5 887.5,700.0 888.0,703.2 888.5,705.7 889.0,707.8 889.5,709.6 890.0,711.4 890.5,713.3 891.2,715.8 891.9,718.4 892.6,720.9 893.4,723.0 894.3,724.5 894.7,725.5 900.0,725.0 901.3,725.0 902.7,725.0 904.2,725.0 905.9,725.0 907.7,725.0 909.6,725.0 911.6,725.0 913.7,725.0 915.8,725.0 918.1,724.9 920.3,724.9 922.7,724.9 925.0,724.9 927.4,724.9 929.8,724.8 932.1,724.8 934.5,724.7 936.8,724.7 939.1,724.6 941.3,724.6 943.5,724.5 945.5,724.4 947.4,724.4 949.4,724.3 951.4,724.2 953.4,724.1 955.4,724.0 957.4,723.8 959.4,723.7 961.5,723.6 963.5,723.5 965.5,723.4 967.5,723.2 969.6,723.1 971.6,723.0 973.7,722.8 975.7,722.7 977.8,722.6 979.8,722.5 981.8,722.4 983.9,722.3 985.9,722.2 988.0,722.1 990.0,722.0 992.0,721.9 994.1,721.9 996.1,721.8 998.1,721.7 1000.2,721.7 1002.2,721.6 1004.3,721.6 1006.3,721.5 1008.4,721.5 1010.4,721.5 1012.5,721.4 1014.5,721.4 1016.6,721.4 1018.6,721.3 1020.7,721.3 1022.7,721.2 1024.7,721.2 1026.8,721.2 1028.8,721.1 1030.9,721.1 1032.9,721.0 1035.0,721.0 1037.0,720.9 1039.0,720.8 1041.1,720.8 1043.1,720.7 1045.1,720.6 1047.2,720.5 1049.2,720.4 1051.2,720.4 1053.3,720.3 1055.3,720.2 1057.3,720.1 1059.4,720.0 1061.4,719.9 1063.4,719.8 1065.5,719.7 1067.5,719.6 1069.5,719.5 1071.6,719.5 1073.6,719.4 1075.6,719.3 1077.6,719.2 1079.7,719.1 1081.7,719.1 1083.7,719.0 1085.7,718.9 1087.7,718.9 1089.7,718.8 1091.8,718.8 1093.8,718.7 1095.8,718.6 1097.8,718.6 1099.8,718.5 1101.8,718.5 1103.8,718.4 1105.8,718.4 1107.8,718.4 1109.8,718.3 1111.8,718.3 1113.8,718.2 1115.8,718.2 1117.8,718.2 1119.8,718.1 1121.9,718.1 1123.9,718.1 1125.9,718.0 1128.0,718.0 1130.0,718.0 1132.1,718.0 1134.2,718.0 1136.3,717.9 1138.5,717.9 1140.7,717.9 1143.0,717.8 1145.2,717.8 1147.5,717.8 1149.8,717.8 1152.0,717.7 1154.2,717.7 1156.5,717.7 1158.7,717.7 1160.8,717.7 1162.9,717.7 1165.0,717.7 1167.0,717.7 1169.0,717.8 1170.9,717.8 1172.7,717.8 1174.5,717.9 1176.1,717.9 1177.7,718.0 1180.7,718.2 1183.5,718.4 1186.0,718.6 1188.3,718.9 1190.4,719.1 1192.3,719.4 1194.1,719.8 1195.7,720.1 1197.2,720.5 1198.5,721.0 1199.8,721.4 1202.3,722.7 1203.4,724.1 1204.1,725.9 1205.0,728.0 1205.9,729.7 1206.9,731.6 1207.9,733.6 1208.8,735.7 1209.7,738.0 1210.5,740.3 1211.0,742.1 1211.5,744.0 1212.0,746.0 1212.4,748.0 1212.8,750.0 1213.2,752.1 1213.6,754.1 1214.0,756.0 1214.4,758.1 1214.8,759.9 1215.2,761.8 1215.6,763.7 1216.0,765.7 1216.4,768.1 1216.8,770.8 1217.0,772.6 1217.3,774.6 1217.6,776.8 1217.8,779.1 1218.1,781.5 1218.4,784.0 1218.7,786.4 1218.9,788.8 1219.2,791.1 1219.4,793.2 1219.6,795.0 1219.8,796.6 1219.9,797.8" fill="none" stroke="#12609E" stroke-width="2" stroke-linejoin="round" stroke-linecap="butt"/>
<circle cx="193.2" cy="782.4" r="6.2" fill="#12609E"/><circle cx="240.1" cy="778.0" r="6.2" fill="#12609E"/><circle cx="286.9" cy="774.5" r="6.2" fill="#12609E"/><circle cx="333.8" cy="770.0" r="6.2" fill="#12609E"/><circle cx="380.6" cy="764.0" r="6.2" fill="#12609E"/><circle cx="427.5" cy="760.5" r="6.2" fill="#12609E"/><circle cx="474.4" cy="757.4" r="6.2" fill="#12609E"/><circle cx="521.2" cy="753.1" r="6.2" fill="#12609E"/><circle cx="568.0" cy="749.2" r="6.2" fill="#12609E"/><circle cx="614.9" cy="745.0" r="6.2" fill="#12609E"/><circle cx="661.8" cy="739.8" r="6.2" fill="#12609E"/><circle cx="708.6" cy="734.1" r="6.2" fill="#12609E"/><circle cx="755.5" cy="727.5" r="6.2" fill="#12609E"/><circle cx="802.3" cy="715.8" r="6.2" fill="#12609E"/><circle cx="849.9" cy="385.6" r="6.2" fill="#12609E"/><circle cx="896.0" cy="725.4" r="6.2" fill="#12609E"/><circle cx="942.9" cy="724.5" r="6.2" fill="#12609E"/><circle cx="989.7" cy="722.0" r="6.2" fill="#12609E"/><circle cx="1036.5" cy="720.9" r="6.2" fill="#12609E"/><circle cx="1083.4" cy="719.0" r="6.2" fill="#12609E"/><circle cx="1130.2" cy="718.0" r="6.2" fill="#12609E"/><circle cx="1177.1" cy="718.0" r="6.2" fill="#12609E"/>
<polyline points="197.0,792.7 198.1,792.6 199.4,792.5 200.9,792.4 202.4,792.3 204.2,792.2 206.0,792.0 208.0,791.9 210.1,791.8 212.2,791.6 214.4,791.4 216.7,791.3 219.0,791.1 221.4,790.9 223.8,790.7 226.2,790.6 228.6,790.4 230.9,790.2 233.3,790.0 235.6,789.8 237.8,789.7 240.0,789.5 242.0,789.3 243.9,789.2 245.9,789.0 247.9,788.8 250.0,788.7 252.0,788.5 254.0,788.3 256.1,788.1 258.1,788.0 260.2,787.8 262.2,787.6 264.3,787.4 266.4,787.2 268.4,787.1 270.5,786.9 272.6,786.7 274.6,786.5 276.7,786.4 278.8,786.2 280.8,786.0 282.9,785.8 285.0,785.7 287.0,785.5 289.0,785.3 291.1,785.2 293.1,785.0 295.2,784.9 297.2,784.7 299.3,784.6 301.3,784.4 303.4,784.3 305.4,784.1 307.4,784.0 309.5,783.8 311.5,783.7 313.6,783.5 315.6,783.4 317.7,783.2 319.7,783.1 321.8,782.9 323.8,782.8 325.8,782.6 327.9,782.5 329.9,782.3 332.0,782.2 334.0,782.0 336.0,781.8 338.1,781.7 340.1,781.5 342.2,781.4 344.2,781.2 346.2,781.0 348.3,780.9 350.3,780.7 352.4,780.5 354.4,780.4 356.4,780.2 358.5,780.0 360.5,779.9 362.5,779.7 364.6,779.5 366.6,779.4 368.6,779.2 370.7,779.0 372.7,778.9 374.7,778.7 376.8,778.5 378.8,778.4 380.8,778.2 382.8,778.0 384.8,777.9 386.8,777.7 388.9,777.6 390.9,777.4 392.9,777.2 394.9,777.1 396.9,776.9 398.9,776.7 400.9,776.6 402.9,776.4 404.8,776.3 406.8,776.1 408.8,776.0 410.9,775.8 412.9,775.6 414.9,775.5 416.9,775.3 418.9,775.1 420.9,775.0 422.9,774.8 425.0,774.7 427.0,774.5 429.0,774.3 431.1,774.2 433.1,774.0 435.2,773.8 437.3,773.7 439.3,773.5 441.4,773.3 443.5,773.2 445.5,773.0 447.6,772.8 449.7,772.7 451.8,772.5 453.9,772.4 455.9,772.2 458.0,772.0 460.1,771.9 462.2,771.7 464.3,771.5 466.3,771.4 468.4,771.2 470.5,771.0 472.5,770.9 474.6,770.7 476.7,770.5 478.7,770.4 480.8,770.2 482.8,770.0 484.9,769.9 487.0,769.7 489.0,769.6 491.1,769.4 493.2,769.2 495.2,769.1 497.3,768.9 499.3,768.8 501.4,768.6 503.5,768.4 505.5,768.3 507.6,768.1 509.6,768.0 511.6,767.8 513.7,767.6 515.7,767.5 517.7,767.3 519.8,767.2 521.8,767.0 523.9,766.8 526.0,766.7 528.1,766.5 530.2,766.4 532.3,766.2 534.4,766.1 536.4,765.9 538.5,765.8 540.6,765.6 542.6,765.5 544.7,765.3 546.8,765.2 548.8,765.0 550.9,764.9 553.0,764.7 555.0,764.5 557.1,764.4 559.2,764.2 561.3,764.0 563.4,763.8 565.5,763.6 567.6,763.4 569.6,763.2 571.7,763.0 573.7,762.7 575.7,762.5 577.8,762.3 579.8,762.0 581.9,761.8 583.9,761.5 586.0,761.3 588.0,761.0 590.1,760.7 592.2,760.5 594.2,760.2 596.3,759.9 598.4,759.7 600.4,759.4 602.5,759.1 604.5,758.9 606.6,758.6 608.7,758.4 610.7,758.2 612.8,757.9 614.8,757.7 616.8,757.5 618.9,757.3 620.9,757.1 623.0,756.9 625.0,756.7 627.0,756.5 629.1,756.3 631.1,756.1 633.1,755.9 635.2,755.7 637.2,755.5 639.2,755.4 641.2,755.2 643.3,755.0 645.3,754.8 647.3,754.7 649.4,754.5 651.4,754.3 653.4,754.1 655.5,753.9 657.5,753.8 659.6,753.6 661.6,753.4 663.6,753.2 665.7,753.0 667.7,752.9 669.8,752.7 671.8,752.5 673.9,752.3 676.0,752.1 678.0,752.0 680.1,751.8 682.1,751.6 684.2,751.4 686.2,751.2 688.3,751.1 690.3,750.9 692.4,750.7 694.5,750.5 696.5,750.3 698.6,750.1 700.6,750.0 702.7,749.8 704.7,749.6 706.8,749.4 708.8,749.2 710.8,749.0 712.9,748.8 714.9,748.7 717.0,748.5 719.0,748.3 721.0,748.2 723.0,748.0 725.1,747.9 727.1,747.7 729.1,747.6 731.2,747.4 733.2,747.3 735.2,747.1 737.2,746.9 739.3,746.7 741.3,746.5 743.3,746.3 745.4,746.0 747.4,745.8 749.4,745.5 751.4,745.2 753.5,744.8 755.5,744.5 757.5,744.1 759.5,743.8 761.6,743.4 763.7,743.0 765.8,742.5 768.0,742.1 770.2,741.6 772.3,741.2 774.5,740.7 776.7,740.2 778.9,739.7 781.0,739.2 783.1,738.6 785.2,738.1 787.2,737.5 789.2,737.0 791.1,736.4 793.0,735.9 794.7,735.3 796.4,734.8 798.1,734.2 799.6,733.6 801.0,733.1 802.3,732.5 805.0,731.1 807.2,729.8 809.0,728.4 810.4,727.0 811.5,725.5 812.4,724.0 813.2,722.4 813.9,720.8 814.6,719.2 815.5,717.4 816.4,715.6 817.1,713.7 817.7,711.7 818.3,709.7 818.8,707.6 819.2,705.5 819.7,703.3 820.1,701.1 820.6,698.9 821.1,696.6 821.6,694.7 822.1,692.8 822.6,690.8 823.1,688.8 823.6,686.8 824.1,684.8 824.6,682.7 825.0,680.6 825.5,678.5 826.0,676.4 826.4,674.2 826.8,672.0 827.1,670.1 827.5,668.2 827.8,666.4 828.1,664.5 828.3,662.6 828.6,660.7 828.9,658.7 829.1,656.7 829.4,654.7 829.6,652.7 829.9,650.5 830.1,648.4 830.4,646.1 830.6,643.8 830.8,642.0 831.0,640.1 831.1,638.2 831.3,636.2 831.5,634.3 831.6,632.3 831.8,630.2 831.9,628.2 832.1,626.1 832.2,624.0 832.4,621.8 832.5,619.6 832.7,617.4 832.8,615.2 832.9,612.9 833.1,610.7 833.2,608.3 833.4,606.0 833.5,604.1 833.6,602.2 833.8,600.3 833.9,598.3 834.0,596.2 834.1,594.2 834.3,592.1 834.4,590.0 834.5,587.9 834.6,585.7 834.8,583.6 834.9,581.4 835.0,579.3 835.1,577.2 835.3,575.0 835.4,572.9 835.5,570.9 835.6,568.8 835.7,566.8 835.9,564.8 836.0,562.8 836.1,560.9 836.2,559.0 836.3,556.8 836.5,554.7 836.6,552.6 836.7,550.6 836.8,548.7 837.0,546.8 837.1,544.9 837.2,543.0 837.3,541.2 837.5,539.3 837.6,537.5 837.7,535.6 837.8,533.7 837.9,531.7 838.0,529.7 838.2,527.6 838.3,525.5 838.4,523.3 838.5,521.0 838.6,519.2 838.7,517.4 838.8,515.5 838.8,513.6 838.9,511.6 839.0,509.6 839.1,507.6 839.1,505.6 839.2,503.6 839.3,501.5 839.4,499.4 839.4,497.3 839.5,495.2 839.6,493.1 839.7,491.0 839.8,488.8 839.8,486.7 839.9,484.6 840.0,482.5 840.1,480.3 840.2,478.2 840.2,476.2 840.3,474.1 840.4,472.0 840.5,470.0 840.6,468.0 840.7,466.1 840.8,464.1 840.9,462.3 841.0,460.4 841.0,458.6 841.1,456.8 841.2,455.0 841.3,453.2 841.4,451.4 841.5,449.6 841.6,447.7 841.7,445.9 841.8,444.0 841.9,442.1 842.0,440.2 842.1,438.2 842.2,436.1 842.3,434.1 842.4,431.9 842.5,429.7 842.6,427.4 842.8,425.0 842.9,422.6 843.0,420.0 843.1,418.3 843.2,416.6 843.2,414.8 843.3,412.9 843.4,411.0 843.5,409.0 843.6,407.0 843.7,404.9 843.8,402.8 843.8,400.6 843.9,398.4 844.0,396.2 844.1,393.9 844.2,391.7 844.3,389.4 844.4,387.1 844.5,384.8 844.6,382.5 844.7,380.1 844.8,377.8 844.9,375.6 845.0,373.3 845.1,371.0 845.2,368.8 845.3,366.6 845.4,364.4 845.5,362.3 845.6,360.2 845.6,358.2 845.7,356.2 845.8,354.2 845.9,352.4 846.0,350.5 846.1,348.8 846.2,347.1 846.3,345.5 846.4,344.0 846.4,342.6 846.5,341.2 846.6,340.0 847.0,334.7 847.4,331.8 847.7,330.6 848.1,330.0 848.5,329.4 848.8,327.9 849.3,324.5 849.4,323.1 849.6,321.7 849.8,320.1 849.9,318.5 850.1,316.8 850.2,315.1 850.4,313.2 850.6,311.3 850.8,309.4 851.0,307.4 851.1,305.3 851.3,303.3 851.5,301.1 851.7,299.0 851.9,296.8 852.1,294.6 852.2,292.3 852.4,290.1 852.6,287.8 852.8,285.5 852.9,283.2 853.1,280.9 853.2,278.7 853.4,276.4 853.5,274.6 853.6,272.7 853.8,270.7 853.9,268.7 854.0,266.7 854.1,264.6 854.2,262.5 854.3,260.4 854.4,258.2 854.6,256.1 854.7,253.9 854.8,251.7 854.9,249.5 855.0,247.3 855.1,245.1 855.2,242.9 855.3,240.7 855.4,238.6 855.5,236.4 855.6,234.3 855.7,232.3 855.8,230.2 855.9,228.3 856.0,226.3 856.1,224.4 856.2,222.6 856.2,220.9 856.3,219.2 856.4,217.5 856.5,216.0 856.7,213.0 856.8,210.2 857.0,207.4 857.1,204.8 857.2,202.3 857.4,199.9 857.5,197.7 857.6,195.6 857.7,193.7 857.8,192.0 857.9,190.4 858.1,189.0 858.2,187.8 858.3,186.8 858.4,186.0 858.8,185.2 859.2,187.3 859.6,191.0 860.0,195.0 860.2,196.4 860.4,197.8 860.5,199.2 860.7,200.6 860.9,202.3 861.1,204.2 861.3,206.4 861.5,209.1 861.7,212.3 861.9,216.0 862.0,217.4 862.0,218.9 862.1,220.4 862.2,222.1 862.2,223.8 862.3,225.6 862.4,227.4 862.4,229.3 862.5,231.2 862.6,233.2 862.6,235.2 862.7,237.3 862.7,239.4 862.8,241.6 862.9,243.7 862.9,245.9 863.0,248.1 863.1,250.3 863.2,252.6 863.2,254.8 863.3,257.0 863.4,259.3 863.4,261.5 863.5,263.7 863.6,265.9 863.7,268.0 863.8,270.2 863.8,272.3 863.9,274.4 864.0,276.4 864.1,278.4 864.2,280.4 864.3,282.4 864.4,284.4 864.5,286.4 864.6,288.4 864.7,290.4 864.8,292.4 864.9,294.4 865.0,296.4 865.1,298.4 865.2,300.4 865.3,302.4 865.4,304.4 865.5,306.4 865.6,308.4 865.7,310.4 865.8,312.4 865.9,314.4 866.0,316.5 866.1,318.5 866.2,320.5 866.3,322.5 866.4,324.5 866.5,326.6 866.6,328.6 866.7,330.6 866.8,332.7 866.9,334.7 867.0,336.8 867.1,338.8 867.2,340.7 867.2,342.7 867.3,344.6 867.4,346.5 867.5,348.5 867.5,350.4 867.6,352.2 867.7,354.1 867.7,356.0 867.8,357.9 867.9,359.8 867.9,361.7 868.0,363.7 868.0,365.6 868.1,367.5 868.2,369.5 868.2,371.5 868.3,373.5 868.4,375.5 868.4,377.5 868.5,379.6 868.6,381.7 868.6,383.9 868.7,386.0 868.8,388.3 868.9,390.5 868.9,392.8 869.0,395.2 869.1,397.6 869.2,400.0 869.3,401.7 869.3,403.5 869.4,405.2 869.5,407.0 869.5,408.9 869.6,410.7 869.6,412.6 869.7,414.5 869.8,416.4 869.9,418.3 869.9,420.3 870.0,422.3 870.1,424.3 870.1,426.3 870.2,428.3 870.3,430.3 870.3,432.4 870.4,434.4 870.5,436.5 870.6,438.6 870.6,440.7 870.7,442.7 870.8,444.8 870.9,446.9 870.9,449.0 871.0,451.1 871.1,453.3 871.2,455.4 871.3,457.5 871.3,459.6 871.4,461.7 871.5,463.8 871.6,465.8 871.6,467.9 871.7,470.0 871.8,472.1 871.9,474.1 872.0,476.1 872.0,478.2 872.1,480.2 872.2,482.2 872.3,484.2 872.3,486.1 872.4,488.1 872.5,490.0 872.6,492.1 872.7,494.2 872.8,496.3 872.8,498.4 872.9,500.5 873.0,502.6 873.1,504.7 873.2,506.8 873.3,508.9 873.4,511.0 873.5,513.1 873.6,515.1 873.6,517.2 873.7,519.3 873.8,521.4 873.9,523.4 874.0,525.5 874.1,527.5 874.2,529.6 874.3,531.6 874.4,533.7 874.5,535.7 874.5,537.7 874.6,539.7 874.7,541.7 874.8,543.7 874.9,545.7 875.0,547.7 875.1,549.7 875.2,551.6 875.3,553.6 875.4,555.5 875.5,557.5 875.6,559.4 875.6,561.3 875.7,563.2 875.8,565.1 875.9,567.0 876.0,568.8 876.1,570.7 876.2,572.5 876.3,574.8 876.4,577.0 876.5,579.2 876.7,581.4 876.8,583.6 876.9,585.8 877.0,587.9 877.1,590.1 877.2,592.2 877.3,594.3 877.4,596.4 877.6,598.5 877.7,600.5 877.8,602.6 877.9,604.6 878.0,606.6 878.1,608.7 878.2,610.7 878.3,612.7 878.5,614.7 878.6,616.6 878.7,618.6 878.8,620.6 878.9,622.5 879.0,624.5 879.2,626.4 879.3,628.4 879.4,630.3 879.5,632.3 879.6,634.2 879.8,636.1 879.9,638.1 880.0,640.0 880.1,642.1 880.3,644.3 880.4,646.5 880.6,648.7 880.7,651.0 880.9,653.2 881.0,655.5 881.2,657.8 881.3,660.0 881.5,662.3 881.6,664.5 881.8,666.8 881.9,669.0 882.1,671.2 882.2,673.4 882.4,675.5 882.5,677.6 882.7,679.7 882.8,681.8 883.0,683.7 883.1,685.7 883.3,687.5 883.4,689.4 883.6,691.1 883.7,692.8 883.8,694.4 883.9,695.9 884.1,697.4 884.2,698.7 884.3,700.0 884.8,704.9 885.2,707.8 885.6,709.4 885.9,710.3 886.3,711.4 886.7,713.3 887.0,715.3 887.4,717.4 887.7,719.6 888.1,721.9 888.4,724.1 888.8,726.2 889.1,728.2 889.5,730.0 890.0,732.5 890.4,734.9 890.9,736.9 891.5,738.5 892.4,739.8 893.3,740.8 894.6,740.7 900.0,740.5 901.3,740.5 902.7,740.5 904.3,740.5 906.0,740.4 907.8,740.4 909.7,740.4 911.7,740.4 913.8,740.3 916.0,740.3 918.2,740.2 920.5,740.2 922.8,740.1 925.1,740.1 927.4,740.1 929.8,740.0 932.2,740.0 934.5,739.9 936.8,739.8 939.1,739.8 941.3,739.7 943.5,739.7 945.5,739.7 947.4,739.6 949.4,739.6 951.4,739.5 953.4,739.5 955.4,739.4 957.4,739.4 959.4,739.3 961.5,739.2 963.5,739.2 965.5,739.1 967.5,739.1 969.6,739.0 971.6,739.0 973.7,738.9 975.7,738.9 977.8,738.8 979.8,738.7 981.8,738.7 983.9,738.6 985.9,738.6 988.0,738.5 990.0,738.5 992.0,738.5 994.1,738.4 996.1,738.4 998.1,738.3 1000.2,738.3 1002.2,738.2 1004.3,738.2 1006.3,738.2 1008.4,738.1 1010.4,738.1 1012.5,738.1 1014.5,738.0 1016.6,738.0 1018.6,738.0 1020.7,737.9 1022.7,737.9 1024.7,737.8 1026.8,737.8 1028.8,737.8 1030.9,737.7 1032.9,737.7 1035.0,737.6 1037.0,737.6 1039.0,737.6 1041.1,737.5 1043.1,737.5 1045.1,737.4 1047.2,737.4 1049.2,737.3 1051.2,737.3 1053.3,737.2 1055.3,737.2 1057.3,737.1 1059.4,737.1 1061.4,737.0 1063.4,737.0 1065.5,736.9 1067.5,736.9 1069.5,736.8 1071.6,736.8 1073.6,736.7 1075.6,736.7 1077.6,736.6 1079.7,736.6 1081.7,736.5 1083.7,736.5 1085.7,736.5 1087.7,736.4 1089.7,736.3 1091.8,736.3 1093.8,736.2 1095.8,736.2 1097.8,736.1 1099.8,736.1 1101.8,736.0 1103.8,736.0 1105.8,735.9 1107.8,735.9 1109.8,735.8 1111.8,735.8 1113.8,735.7 1115.8,735.7 1117.8,735.6 1119.8,735.6 1121.9,735.5 1123.9,735.5 1125.9,735.5 1128.0,735.4 1130.0,735.4 1132.1,735.4 1134.2,735.4 1136.4,735.3 1138.7,735.3 1141.0,735.3 1143.3,735.3 1145.6,735.3 1148.0,735.3 1150.3,735.3 1152.7,735.3 1155.0,735.3 1157.3,735.3 1159.5,735.3 1161.7,735.3 1163.9,735.3 1166.0,735.3 1167.9,735.3 1169.8,735.4 1171.7,735.4 1173.4,735.4 1174.9,735.4 1176.4,735.4 1177.7,735.4 1182.8,735.4 1184.9,735.4 1185.8,735.5 1187.2,735.8 1189.3,736.4 1191.3,737.1 1193.2,738.0 1195.0,739.0 1196.8,740.0 1198.5,741.1 1200.1,742.4 1201.6,743.9 1202.9,745.6 1203.9,747.4 1204.9,749.5 1206.0,752.0 1206.6,753.6 1207.3,755.3 1208.0,757.0 1208.6,758.9 1209.3,761.0 1209.9,763.1 1210.5,765.4 1210.9,767.2 1211.3,769.1 1211.7,771.1 1212.1,773.1 1212.5,775.2 1212.9,777.4 1213.2,779.8 1213.6,782.3 1214.0,785.0 1214.2,786.7 1214.5,788.5 1214.7,790.5 1215.0,792.4 1215.3,794.5 1215.5,796.5 1215.8,798.7 1216.1,800.8 1216.3,803.0 1216.6,805.2 1216.8,807.3 1217.0,809.5 1217.3,811.6 1217.5,813.7 1217.7,815.7 1217.9,817.8 1218.1,819.9 1218.3,822.0 1218.5,824.1 1218.6,826.2 1218.8,828.2 1219.0,830.3 1219.1,832.3 1219.3,834.4 1219.4,836.5 1219.6,838.6 1219.7,840.7 1219.9,842.8 1220.0,845.0 1220.1,847.1 1220.3,849.4 1220.4,851.7 1220.5,854.1 1220.7,856.6 1220.8,859.1 1220.9,861.5 1221.1,863.9 1221.2,866.2 1221.3,868.5 1221.4,870.5 1221.5,872.4 1221.6,874.1 1221.6,875.6 1221.7,876.8" fill="none" stroke="#FFC000" stroke-width="2" stroke-linejoin="round" stroke-linecap="butt"/>
<polygon points="186.2,797.6 200.2,797.6 193.2,785.6" fill="#FFC000"/><polygon points="233.1,794.1 247.1,794.1 240.1,782.1" fill="#FFC000"/><polygon points="279.9,790.1 293.9,790.1 286.9,778.1" fill="#FFC000"/><polygon points="326.8,786.6 340.8,786.6 333.8,774.6" fill="#FFC000"/><polygon points="373.6,782.8 387.6,782.8 380.6,770.8" fill="#FFC000"/><polygon points="420.5,779.1 434.5,779.1 427.5,767.1" fill="#FFC000"/><polygon points="467.4,775.3 481.4,775.3 474.4,763.3" fill="#FFC000"/><polygon points="514.2,771.6 528.2,771.6 521.2,759.6" fill="#FFC000"/><polygon points="561.0,768.0 575.0,768.0 568.0,756.0" fill="#FFC000"/><polygon points="607.9,762.3 621.9,762.3 614.9,750.3" fill="#FFC000"/><polygon points="654.8,758.0 668.8,758.0 661.8,746.0" fill="#FFC000"/><polygon points="701.6,753.8 715.6,753.8 708.6,741.8" fill="#FFC000"/><polygon points="748.5,749.1 762.5,749.1 755.5,737.1" fill="#FFC000"/><polygon points="795.3,737.1 809.3,737.1 802.3,725.1" fill="#FFC000"/><polygon points="842.3,329.1 856.3,329.1 849.3,317.1" fill="#FFC000"/><polygon points="889.0,745.3 903.0,745.3 896.0,733.3" fill="#FFC000"/><polygon points="935.9,744.3 949.9,744.3 942.9,732.3" fill="#FFC000"/><polygon points="982.7,743.1 996.7,743.1 989.7,731.1" fill="#FFC000"/><polygon points="1029.5,742.2 1043.5,742.2 1036.5,730.2" fill="#FFC000"/><polygon points="1076.4,741.1 1090.4,741.1 1083.4,729.1" fill="#FFC000"/><polygon points="1123.2,740.0 1137.2,740.0 1130.2,728.0" fill="#FFC000"/><polygon points="1170.1,740.0 1184.1,740.0 1177.1,728.0" fill="#FFC000"/>
<polyline points="197.0,781.0 198.1,780.9 199.4,780.7 200.9,780.6 202.4,780.4 204.2,780.2 206.0,780.0 208.0,779.8 210.1,779.5 212.2,779.3 214.4,779.0 216.7,778.8 219.0,778.5 221.4,778.3 223.8,778.0 226.2,777.8 228.6,777.5 230.9,777.2 233.3,777.0 235.6,776.8 237.8,776.5 240.0,776.3 242.0,776.1 243.9,775.9 245.9,775.7 247.9,775.5 250.0,775.4 252.0,775.2 254.0,775.0 256.1,774.8 258.1,774.6 260.2,774.5 262.2,774.3 264.3,774.1 266.4,773.9 268.4,773.8 270.5,773.6 272.6,773.4 274.6,773.2 276.7,773.0 278.8,772.8 280.8,772.6 282.9,772.4 285.0,772.2 287.0,772.0 289.0,771.8 291.1,771.6 293.1,771.4 295.2,771.1 297.2,770.9 299.3,770.7 301.3,770.5 303.4,770.2 305.4,770.0 307.4,769.8 309.5,769.5 311.5,769.3 313.6,769.1 315.6,768.8 317.7,768.6 319.7,768.3 321.8,768.1 323.8,767.8 325.8,767.6 327.9,767.3 329.9,767.0 332.0,766.8 334.0,766.5 336.0,766.2 338.1,765.9 340.1,765.6 342.2,765.3 344.2,765.0 346.2,764.7 348.3,764.4 350.3,764.0 352.4,763.7 354.4,763.4 356.4,763.1 358.5,762.7 360.5,762.4 362.5,762.1 364.6,761.7 366.6,761.4 368.6,761.1 370.7,760.8 372.7,760.5 374.7,760.2 376.8,759.9 378.8,759.6 380.8,759.3 382.8,759.0 384.8,758.8 386.8,758.5 388.9,758.3 390.9,758.0 392.9,757.8 394.9,757.5 396.9,757.3 398.9,757.1 400.9,756.9 402.9,756.6 404.8,756.4 406.8,756.2 408.8,756.0 410.9,755.8 412.9,755.5 414.9,755.3 416.9,755.1 418.9,754.9 420.9,754.7 422.9,754.4 425.0,754.2 427.0,754.0 429.0,753.8 431.1,753.5 433.1,753.3 435.2,753.1 437.3,752.9 439.3,752.6 441.4,752.4 443.5,752.2 445.5,752.0 447.6,751.7 449.7,751.5 451.8,751.3 453.9,751.1 455.9,750.8 458.0,750.6 460.1,750.4 462.2,750.2 464.3,750.0 466.3,749.7 468.4,749.5 470.5,749.3 472.5,749.1 474.6,748.9 476.7,748.7 478.7,748.5 480.8,748.3 482.8,748.1 484.9,747.9 487.0,747.7 489.0,747.5 491.1,747.3 493.2,747.1 495.2,746.9 497.3,746.7 499.3,746.5 501.4,746.3 503.5,746.1 505.5,746.0 507.6,745.8 509.6,745.6 511.6,745.4 513.7,745.2 515.7,745.0 517.7,744.9 519.8,744.7 521.8,744.5 523.9,744.3 526.0,744.1 528.1,744.0 530.2,743.8 532.3,743.6 534.4,743.5 536.4,743.3 538.5,743.2 540.6,743.0 542.6,742.9 544.7,742.7 546.8,742.6 548.8,742.4 550.9,742.2 553.0,742.1 555.0,741.9 557.1,741.7 559.2,741.5 561.3,741.3 563.4,741.1 565.5,740.9 567.6,740.7 569.6,740.5 571.7,740.2 573.7,740.0 575.7,739.8 577.8,739.5 579.8,739.3 581.9,739.0 583.9,738.7 586.0,738.4 588.0,738.2 590.1,737.9 592.2,737.6 594.2,737.3 596.3,737.0 598.4,736.7 600.4,736.5 602.5,736.2 604.5,735.9 606.6,735.6 608.7,735.3 610.7,735.0 612.8,734.8 614.8,734.5 616.8,734.2 618.9,734.0 620.9,733.7 623.0,733.5 625.0,733.2 627.0,732.9 629.1,732.7 631.1,732.4 633.1,732.2 635.2,731.9 637.2,731.7 639.2,731.4 641.2,731.1 643.3,730.9 645.3,730.6 647.3,730.4 649.4,730.1 651.4,729.8 653.4,729.5 655.5,729.3 657.5,729.0 659.6,728.7 661.6,728.4 663.7,728.1 665.7,727.8 667.9,727.5 670.0,727.2 672.1,726.9 674.3,726.5 676.5,726.2 678.6,725.9 680.8,725.5 682.9,725.2 685.1,724.9 687.2,724.5 689.4,724.2 691.5,723.9 693.6,723.5 695.6,723.2 697.6,722.8 699.6,722.5 701.5,722.2 703.4,721.9 705.3,721.5 707.1,721.2 708.8,720.9 711.4,720.4 713.9,719.9 716.3,719.4 718.7,718.9 720.9,718.5 723.2,718.0 725.3,717.5 727.4,717.0 729.4,716.5 731.3,716.1 733.2,715.6 735.0,715.2 736.7,714.8 738.4,714.4 740.0,714.0 742.8,713.4 745.2,712.8 747.3,712.4 749.2,711.9 750.9,711.5 752.6,711.0 754.3,710.5 756.0,709.8 757.9,709.0 759.8,708.1 761.5,707.2 763.2,706.2 764.8,705.1 766.5,703.8 768.3,702.3 769.6,701.1 771.0,699.8 772.4,698.4 773.8,697.0 775.2,695.5 776.6,693.9 777.9,692.2 779.2,690.6 780.4,688.9 781.5,687.2 782.5,685.5 783.4,683.7 784.2,681.9 785.0,680.1 785.7,678.2 786.4,676.3 787.1,674.4 787.7,672.4 788.3,670.4 789.0,668.3 789.6,666.4 790.1,664.6 790.6,662.8 791.1,660.9 791.6,659.0 792.1,657.1 792.6,655.1 793.1,652.9 793.6,650.7 794.1,648.3 794.7,645.7 795.1,644.0 795.5,642.3 795.9,640.4 796.3,638.5 796.8,636.5 797.2,634.5 797.7,632.4 798.2,630.3 798.6,628.2 799.1,626.1 799.6,623.9 800.0,621.8 800.4,619.7 800.9,617.6 801.2,615.6 801.6,613.6 802.0,611.7 802.3,609.8 802.7,607.6 803.0,605.6 803.3,603.6 803.5,601.6 803.8,599.7 804.0,597.7 804.2,595.9 804.4,594.0 804.6,592.1 804.8,590.2 805.0,588.2 805.2,586.3 805.4,584.2 805.6,582.2 805.8,580.0 806.0,578.2 806.2,576.3 806.4,574.4 806.6,572.6 806.8,570.7 806.9,568.7 807.1,566.8 807.3,564.8 807.5,562.9 807.7,560.9 807.9,558.8 808.1,556.8 808.3,554.7 808.4,552.6 808.6,550.4 808.8,548.3 809.0,546.0 809.2,543.8 809.4,541.9 809.5,540.1 809.7,538.2 809.8,536.3 810.0,534.3 810.1,532.4 810.3,530.4 810.4,528.5 810.6,526.5 810.7,524.5 810.9,522.4 811.1,520.4 811.2,518.3 811.4,516.2 811.5,514.1 811.7,511.9 811.8,509.7 812.0,507.5 812.1,505.3 812.3,503.1 812.4,500.8 812.6,498.5 812.7,496.7 812.8,494.8 813.0,492.9 813.1,490.9 813.2,488.9 813.3,486.9 813.5,484.9 813.6,482.8 813.7,480.7 813.8,478.7 813.9,476.6 814.1,474.4 814.2,472.3 814.3,470.2 814.4,468.1 814.5,466.0 814.7,463.8 814.8,461.7 814.9,459.7 815.0,457.6 815.1,455.5 815.3,453.5 815.4,451.5 815.5,449.5 815.6,447.5 815.8,445.6 815.9,443.7 816.0,441.9 816.2,439.6 816.3,437.4 816.5,435.1 816.6,433.0 816.8,430.8 816.9,428.7 817.1,426.6 817.3,424.6 817.4,422.5 817.6,420.5 817.8,418.5 817.9,416.5 818.1,414.5 818.2,412.5 818.4,410.6 818.5,408.6 818.7,406.6 818.8,404.6 819.0,402.7 819.1,400.6 819.3,398.6 819.4,396.6 819.5,394.6 819.7,392.6 819.8,390.6 819.9,388.7 820.0,386.7 820.2,384.8 820.3,382.9 820.4,381.0 820.5,379.1 820.6,377.2 820.7,375.3 820.9,373.3 821.0,371.3 821.1,369.4 821.2,367.3 821.3,365.3 821.4,363.2 821.5,361.1 821.6,358.9 821.8,356.6 821.9,354.4 822.0,352.0 822.1,350.2 822.2,348.4 822.3,346.6 822.4,344.7 822.4,342.8 822.5,340.9 822.6,339.0 822.7,337.0 822.8,335.0 822.9,333.0 823.0,331.0 823.1,328.9 823.1,326.9 823.2,324.8 823.3,322.7 823.4,320.7 823.5,318.6 823.6,316.5 823.7,314.4 823.8,312.3 823.9,310.2 823.9,308.0 824.0,305.9 824.1,303.9 824.2,301.8 824.3,299.7 824.4,297.6 824.5,295.6 824.6,293.5 824.7,291.5 824.8,289.5 824.9,287.5 825.0,285.4 825.1,283.4 825.2,281.4 825.3,279.4 825.4,277.4 825.5,275.4 825.6,273.3 825.7,271.3 825.8,269.3 825.9,267.3 826.0,265.3 826.1,263.3 826.2,261.2 826.3,259.2 826.4,257.2 826.5,255.2 826.6,253.2 826.7,251.2 826.8,249.1 826.9,247.1 827.0,245.1 827.1,243.1 827.2,241.1 827.3,239.1 827.5,237.0 827.6,235.0 827.7,233.0 827.8,231.0 827.9,229.0 828.0,226.9 828.2,224.9 828.3,222.8 828.4,220.8 828.5,218.7 828.7,216.6 828.8,214.5 828.9,212.4 829.1,210.3 829.2,208.2 829.3,206.1 829.5,204.0 829.6,201.9 829.7,199.8 829.9,197.8 830.0,195.7 830.1,193.7 830.3,191.6 830.4,189.6 830.5,187.6 830.7,185.6 830.8,183.7 830.9,181.7 831.1,179.8 831.2,177.9 831.3,176.0 831.4,174.2 831.6,172.4 831.7,170.6 831.9,168.2 832.0,165.8 832.2,163.4 832.4,161.1 832.6,158.8 832.7,156.5 832.9,154.2 833.1,151.9 833.2,149.7 833.4,147.5 833.6,145.4 833.7,143.3 833.9,141.2 834.1,139.2 834.2,137.3 834.4,135.4 834.5,133.5 834.7,131.7 834.9,130.0 835.0,128.4 835.2,126.8 835.3,125.3 835.6,122.0 836.0,119.0 836.3,116.5 836.6,114.3 836.9,112.4 837.2,110.6 837.5,109.0 837.7,107.5 838.0,106.0 838.5,103.1 839.0,100.9 839.4,99.3 840.0,98.0 841.4,96.7 843.0,96.6 844.5,95.5 845.9,98.0 846.1,99.2 846.2,100.6 846.3,102.3 846.5,104.1 846.6,106.0 846.7,108.1 846.8,110.4 846.9,112.7 847.0,115.1 847.1,117.6 847.2,120.1 847.3,122.7 847.4,125.3 847.5,127.0 847.6,128.8 847.7,130.7 847.8,132.6 847.9,134.6 848.0,136.6 848.1,138.6 848.2,140.7 848.3,142.8 848.4,144.9 848.5,147.0 848.6,149.2 848.7,151.3 848.8,153.4 848.9,155.5 849.0,157.6 849.1,159.6 849.1,161.6 849.2,163.6 849.3,165.5 849.4,167.7 849.5,169.7 849.5,171.7 849.6,173.6 849.6,175.5 849.7,177.3 849.7,179.1 849.8,181.0 849.8,182.8 849.9,184.7 849.9,186.7 850.0,188.7 850.1,190.9 850.1,193.1 850.2,195.5 850.3,198.1 850.4,200.8 850.5,202.4 850.5,204.1 850.6,205.8 850.7,207.5 850.7,209.3 850.8,211.0 850.9,212.9 851.0,214.7 851.0,216.6 851.1,218.5 851.2,220.5 851.3,222.5 851.4,224.5 851.4,226.5 851.5,228.5 851.6,230.6 851.7,232.7 851.8,234.8 851.9,236.9 852.0,239.1 852.1,241.3 852.1,243.4 852.2,245.6 852.3,247.8 852.4,250.1 852.5,252.3 852.6,254.5 852.6,256.8 852.7,259.0 852.8,261.3 852.9,263.2 852.9,265.0 853.0,266.9 853.1,268.9 853.1,270.8 853.2,272.8 853.2,274.8 853.3,276.9 853.4,278.9 853.4,281.0 853.5,283.0 853.6,285.1 853.6,287.2 853.7,289.3 853.7,291.4 853.8,293.6 853.9,295.7 853.9,297.8 854.0,299.9 854.0,302.1 854.1,304.2 854.2,306.3 854.2,308.5 854.3,310.6 854.3,312.7 854.4,314.8 854.5,316.9 854.5,319.0 854.6,321.0 854.6,323.1 854.7,325.1 854.7,327.1 854.8,329.1 854.8,331.1 854.9,333.0 854.9,334.9 855.0,336.8 855.1,339.0 855.1,341.2 855.2,343.3 855.2,345.4 855.3,347.4 855.3,349.4 855.4,351.4 855.4,353.3 855.4,355.2 855.5,357.2 855.5,359.0 855.6,360.9 855.6,362.8 855.6,364.7 855.7,366.6 855.7,368.4 855.8,370.3 855.8,372.2 855.8,374.2 855.9,376.1 855.9,378.1 856.0,380.1 856.0,382.1 856.1,384.2 856.1,386.3 856.2,388.4 856.2,390.6 856.3,392.9 856.4,395.2 856.4,397.6 856.5,400.0 856.6,401.7 856.6,403.5 856.7,405.2 856.7,407.0 856.8,408.9 856.8,410.7 856.9,412.6 856.9,414.5 857.0,416.4 857.0,418.3 857.1,420.3 857.2,422.3 857.2,424.3 857.3,426.3 857.4,428.3 857.4,430.3 857.5,432.4 857.5,434.4 857.6,436.5 857.7,438.6 857.7,440.7 857.8,442.7 857.9,444.8 858.0,446.9 858.0,449.0 858.1,451.1 858.2,453.3 858.2,455.4 858.3,457.5 858.4,459.6 858.5,461.7 858.5,463.8 858.6,465.8 858.7,467.9 858.7,470.0 858.8,472.1 858.9,474.1 859.0,476.1 859.0,478.2 859.1,480.2 859.2,482.2 859.3,484.2 859.3,486.1 859.4,488.1 859.5,490.0 859.6,492.1 859.7,494.2 859.8,496.4 859.8,498.5 859.9,500.6 860.0,502.8 860.1,504.9 860.2,507.1 860.3,509.3 860.4,511.4 860.5,513.6 860.6,515.8 860.7,517.9 860.8,520.1 860.9,522.2 861.0,524.4 861.1,526.5 861.2,528.6 861.3,530.7 861.4,532.9 861.5,535.0 861.6,537.0 861.7,539.1 861.8,541.2 861.9,543.2 862.0,545.2 862.1,547.2 862.2,549.2 862.3,551.1 862.4,553.1 862.5,555.0 862.6,556.9 862.7,558.7 862.8,560.6 862.9,562.4 863.0,564.1 863.0,565.9 863.1,567.6 863.2,569.3 863.3,570.9 863.4,572.5 863.6,575.3 863.7,577.9 863.8,580.5 864.0,583.0 864.1,585.4 864.3,587.7 864.4,589.9 864.5,592.0 864.7,594.1 864.8,596.2 864.9,598.1 865.1,600.1 865.2,602.0 865.3,603.8 865.4,605.7 865.6,607.5 865.7,609.3 865.8,611.0 866.0,612.8 866.1,614.6 866.2,616.4 866.4,618.2 866.5,620.0 866.7,622.3 866.8,624.6 867.0,626.9 867.2,629.1 867.4,631.3 867.5,633.4 867.7,635.5 867.9,637.6 868.0,639.7 868.2,641.7 868.4,643.7 868.5,645.6 868.7,647.6 868.9,649.5 869.1,651.3 869.3,653.1 869.5,654.9 869.7,656.7 870.0,659.1 870.3,661.4 870.6,663.7 870.9,665.8 871.2,668.0 871.5,670.0 871.9,672.0 872.2,674.0 872.6,675.9 872.9,677.7 873.3,679.5 873.6,681.3 874.0,683.0 874.6,685.4 875.2,687.7 875.8,689.9 876.5,692.0 877.1,693.9 877.8,695.8 878.4,697.6 879.0,699.2 879.5,700.8 880.5,703.9 881.3,706.4 882.1,708.4 883.0,710.0 885.2,711.8 888.0,712.5 888.9,712.8 889.3,712.9 891.2,712.8 896.0,712.6 897.3,712.5 898.7,712.5 900.3,712.4 901.9,712.3 903.7,712.2 905.6,712.1 907.6,712.0 909.6,711.9 911.8,711.8 914.0,711.6 916.2,711.5 918.5,711.4 920.8,711.2 923.1,711.1 925.5,711.0 927.8,710.8 930.2,710.7 932.5,710.6 934.8,710.5 937.1,710.3 939.3,710.2 941.4,710.1 943.5,710.0 945.5,709.9 947.6,709.8 949.6,709.7 951.6,709.6 953.7,709.5 955.7,709.4 957.7,709.4 959.7,709.3 961.7,709.2 963.8,709.1 965.8,709.0 967.8,708.9 969.8,708.9 971.8,708.8 973.8,708.7 975.8,708.6 977.9,708.5 979.9,708.4 981.9,708.4 983.9,708.3 985.9,708.2 988.0,708.1 990.0,708.0 992.0,707.9 994.1,707.8 996.1,707.7 998.1,707.6 1000.2,707.5 1002.2,707.4 1004.3,707.3 1006.3,707.2 1008.4,707.1 1010.4,707.0 1012.5,706.9 1014.5,706.8 1016.6,706.7 1018.6,706.6 1020.7,706.5 1022.7,706.4 1024.7,706.3 1026.8,706.2 1028.8,706.1 1030.9,706.0 1032.9,705.9 1035.0,705.8 1037.0,705.7 1039.0,705.6 1041.1,705.5 1043.1,705.5 1045.1,705.4 1047.2,705.3 1049.2,705.2 1051.2,705.1 1053.3,705.1 1055.3,705.0 1057.3,704.9 1059.4,704.9 1061.4,704.8 1063.4,704.7 1065.5,704.7 1067.5,704.6 1069.5,704.5 1071.6,704.4 1073.6,704.4 1075.6,704.3 1077.6,704.2 1079.7,704.2 1081.7,704.1 1083.7,704.0 1085.7,703.9 1087.7,703.8 1089.7,703.7 1091.8,703.6 1093.8,703.5 1095.8,703.4 1097.8,703.3 1099.8,703.2 1101.8,703.1 1103.8,703.0 1105.8,702.9 1107.8,702.8 1109.8,702.7 1111.8,702.6 1113.8,702.5 1115.8,702.4 1117.8,702.4 1119.8,702.3 1121.9,702.2 1123.9,702.1 1125.9,702.1 1128.0,702.0 1130.0,702.0 1132.1,702.0 1134.2,701.9 1136.5,701.9 1138.7,701.9 1141.0,701.9 1143.4,701.9 1145.8,701.9 1148.1,701.9 1150.5,701.9 1152.9,701.9 1155.2,701.9 1157.5,701.9 1159.8,702.0 1162.0,702.0 1164.1,702.0 1166.2,702.1 1168.2,702.1 1170.1,702.2 1171.9,702.2 1173.5,702.3 1175.1,702.4 1176.5,702.4 1177.7,702.5 1182.7,703.3 1183.1,704.3 1183.6,705.5 1185.6,706.7 1187.7,708.0 1190.0,710.0 1191.3,711.3 1192.7,712.7 1194.1,714.3 1195.5,716.1 1196.8,718.2 1198.0,720.5 1198.6,722.1 1199.2,723.8 1199.8,725.6 1200.3,727.5 1200.8,729.5 1201.2,731.6 1201.7,733.7 1202.1,735.8 1202.6,737.9 1203.0,740.0 1203.4,741.9 1203.8,743.8 1204.2,745.6 1204.6,747.5 1204.9,749.4 1205.3,751.4 1205.7,753.4 1206.0,755.4 1206.3,757.5 1206.7,759.7 1207.0,761.9 1207.2,763.7 1207.5,765.6 1207.7,767.6 1207.9,769.5 1208.1,771.6 1208.3,773.6 1208.5,775.7 1208.8,777.8 1209.0,779.9 1209.2,782.0 1209.4,784.0 1209.6,786.1 1209.8,788.1 1210.0,790.0 1210.3,792.2 1210.5,794.4 1210.8,796.5 1211.1,798.6 1211.4,800.7 1211.6,802.8 1211.9,804.9 1212.2,807.0 1212.5,809.1 1212.7,811.2 1213.0,813.4 1213.2,815.7 1213.4,817.7 1213.6,819.7 1213.8,821.7 1213.9,823.7 1214.1,825.8 1214.3,827.9 1214.4,830.0 1214.6,832.1 1214.7,834.2 1214.9,836.3 1215.0,838.5 1215.2,840.7 1215.3,842.8 1215.5,845.0 1215.7,847.1 1215.8,849.4 1216.0,851.7 1216.2,854.1 1216.3,856.6 1216.5,859.1 1216.7,861.5 1216.8,863.9 1217.0,866.2 1217.1,868.5 1217.3,870.5 1217.4,872.4 1217.5,874.1 1217.6,875.6 1217.7,876.8" fill="none" stroke="#00C46E" stroke-width="2" stroke-linejoin="round" stroke-linecap="butt"/>
<polygon points="186.2,776.7 200.2,776.7 193.2,789.7" fill="#00C46E"/><polygon points="233.1,771.6 247.1,771.6 240.1,784.6" fill="#00C46E"/><polygon points="279.9,767.3 293.9,767.3 286.9,780.3" fill="#00C46E"/><polygon points="326.8,761.8 340.8,761.8 333.8,774.8" fill="#00C46E"/><polygon points="373.6,754.6 387.6,754.6 380.6,767.6" fill="#00C46E"/><polygon points="420.5,749.2 434.5,749.2 427.5,762.2" fill="#00C46E"/><polygon points="467.4,744.2 481.4,744.2 474.4,757.2" fill="#00C46E"/><polygon points="514.2,739.9 528.2,739.9 521.2,752.9" fill="#00C46E"/><polygon points="561.0,736.0 575.0,736.0 568.0,749.0" fill="#00C46E"/><polygon points="607.9,729.8 621.9,729.8 614.9,742.8" fill="#00C46E"/><polygon points="654.8,723.7 668.8,723.7 661.8,736.7" fill="#00C46E"/><polygon points="701.6,716.2 715.6,716.2 708.6,729.2" fill="#00C46E"/><polygon points="748.5,705.3 762.5,705.3 755.5,718.3" fill="#00C46E"/><polygon points="795.3,605.1 809.3,605.1 802.3,618.1" fill="#00C46E"/><polygon points="842.3,160.8 856.3,160.8 849.3,173.8" fill="#00C46E"/><polygon points="889.0,707.9 903.0,707.9 896.0,720.9" fill="#00C46E"/><polygon points="935.9,705.3 949.9,705.3 942.9,718.3" fill="#00C46E"/><polygon points="982.7,703.3 996.7,703.3 989.7,716.3" fill="#00C46E"/><polygon points="1029.5,701.0 1043.5,701.0 1036.5,714.0" fill="#00C46E"/><polygon points="1076.4,699.3 1090.4,699.3 1083.4,712.3" fill="#00C46E"/><polygon points="1123.2,697.3 1137.2,697.3 1130.2,710.3" fill="#00C46E"/><polygon points="1170.1,697.8 1184.1,697.8 1177.1,710.8" fill="#00C46E"/>
</g><g clip-path="url(#cb)">
<polyline points="1423.0,150.0 1424.1,150.1 1425.4,150.2 1426.9,150.4 1428.5,150.5 1430.3,150.7 1432.2,150.9 1434.2,151.0 1436.4,151.2 1438.6,151.4 1440.8,151.7 1443.1,151.9 1445.5,152.1 1447.9,152.4 1450.2,152.6 1452.6,152.9 1455.0,153.1 1457.3,153.4 1459.5,153.7 1461.7,154.0 1463.6,154.3 1465.6,154.6 1467.6,154.9 1469.6,155.2 1471.6,155.5 1473.6,155.8 1475.6,156.2 1477.7,156.5 1479.7,156.9 1481.8,157.3 1483.8,157.6 1485.9,158.0 1488.0,158.4 1490.0,158.7 1492.1,159.1 1494.2,159.5 1496.2,159.8 1498.3,160.2 1500.3,160.5 1502.4,160.9 1504.4,161.2 1506.4,161.5 1508.5,161.8 1510.5,162.2 1512.5,162.5 1514.5,162.8 1516.6,163.1 1518.6,163.4 1520.6,163.7 1522.6,164.0 1524.7,164.3 1526.7,164.7 1528.7,165.0 1530.7,165.3 1532.8,165.6 1534.8,165.9 1536.8,166.2 1538.8,166.5 1540.8,166.8 1542.8,167.1 1544.8,167.4 1546.8,167.7 1548.9,168.0 1551.0,168.3 1553.1,168.7 1555.1,169.0 1557.2,169.3 1559.3,169.7 1561.3,170.0 1563.4,170.3 1565.4,170.6 1567.5,171.0 1569.6,171.3 1571.6,171.6 1573.7,171.9 1575.7,172.3 1577.8,172.6 1579.9,172.9 1582.0,173.2 1584.0,173.5 1586.1,173.8 1588.2,174.1 1590.2,174.4 1592.2,174.6 1594.2,174.9 1596.2,175.2 1598.2,175.4 1600.2,175.7 1602.2,176.0 1604.2,176.2 1606.3,176.5 1608.3,176.7 1610.3,176.9 1612.3,177.2 1614.3,177.4 1616.4,177.7 1618.4,177.9 1620.4,178.2 1622.4,178.4 1624.4,178.7 1626.5,178.9 1628.5,179.2 1630.5,179.4 1632.5,179.6 1634.5,179.9 1636.5,180.1 1638.6,180.4 1640.6,180.6 1642.6,180.9 1644.6,181.1 1646.6,181.4 1648.7,181.6 1650.7,181.8 1652.7,182.1 1654.7,182.3 1656.7,182.6 1658.7,182.8 1660.8,183.1 1662.8,183.3 1664.8,183.6 1666.8,183.8 1668.8,184.1 1670.8,184.3 1672.8,184.6 1674.8,184.9 1676.8,185.1 1678.8,185.4 1680.8,185.7 1682.8,186.0 1684.8,186.3 1686.8,186.5 1688.7,186.8 1690.7,187.1 1692.7,187.4 1694.7,187.7 1696.7,188.0 1698.7,188.3 1700.7,188.6 1702.6,188.9 1704.6,189.1 1706.6,189.4 1708.6,189.7 1710.6,190.0 1712.6,190.3 1714.6,190.6 1716.6,190.9 1718.6,191.2 1720.6,191.5 1722.6,191.7 1724.6,192.0 1726.6,192.3 1728.6,192.6 1730.6,192.9 1732.6,193.1 1734.7,193.4 1736.7,193.7 1738.7,194.0 1740.7,194.3 1742.7,194.6 1744.7,194.9 1746.7,195.2 1748.7,195.5 1750.8,195.8 1752.8,196.1 1754.8,196.4 1756.8,196.7 1758.8,197.0 1760.8,197.3 1762.9,197.7 1764.9,198.0 1766.9,198.3 1768.9,198.7 1770.9,199.0 1773.0,199.3 1775.0,199.7 1777.0,200.0 1779.0,200.3 1781.1,200.7 1783.1,201.0 1785.1,201.4 1787.1,201.7 1789.1,202.1 1791.2,202.5 1793.2,202.8 1795.2,203.2 1797.2,203.5 1799.2,203.9 1801.2,204.3 1803.2,204.6 1805.2,205.0 1807.2,205.4 1809.2,205.8 1811.2,206.2 1813.2,206.6 1815.2,207.0 1817.1,207.4 1819.1,207.8 1821.1,208.2 1823.1,208.6 1825.1,209.0 1827.1,209.4 1829.1,209.8 1831.0,210.2 1833.0,210.6 1835.0,211.0 1837.0,211.3 1839.0,211.7 1841.0,212.0 1843.0,212.3 1845.0,212.6 1847.0,212.9 1849.0,213.2 1851.0,213.5 1853.0,213.8 1855.0,214.1 1857.0,214.4 1859.0,214.7 1861.0,214.9 1863.0,215.2 1865.0,215.4 1867.0,215.7 1869.0,216.0 1871.0,216.2 1873.0,216.5 1875.0,216.7 1877.0,217.0 1879.0,217.2 1881.0,217.5 1883.0,217.7 1885.0,217.9 1887.0,218.2 1889.0,218.4 1891.0,218.6 1893.0,218.8 1895.0,219.0 1896.9,219.2 1898.9,219.4 1900.9,219.6 1902.9,219.8 1904.9,220.0 1906.9,220.2 1908.9,220.4 1910.9,220.6 1912.9,220.9 1914.8,221.1 1916.8,221.3 1918.8,221.6 1920.8,221.9 1922.8,222.2 1924.8,222.5 1926.8,222.8 1928.8,223.2 1930.8,223.5 1932.8,223.9 1934.8,224.3 1936.7,224.7 1938.7,225.0 1940.7,225.5 1942.7,225.9 1944.7,226.3 1946.7,226.7 1948.7,227.2 1950.7,227.6 1952.7,228.1 1954.7,228.5 1956.7,229.0 1958.7,229.5 1960.7,229.9 1962.7,230.4 1964.7,230.9 1966.7,231.4 1968.6,231.9 1970.6,232.4 1972.6,232.9 1974.7,233.4 1976.7,234.0 1978.8,234.5 1980.9,235.1 1983.0,235.7 1985.1,236.2 1987.2,236.8 1989.2,237.4 1991.3,238.0 1993.3,238.5 1995.2,239.1 1997.2,239.7 1999.1,240.3 2000.9,240.8 2002.7,241.4 2004.4,241.9 2006.1,242.4 2007.6,242.9 2009.1,243.4 2011.8,244.3 2014.2,245.2 2016.3,246.0 2018.3,246.8 2020.0,247.5 2021.7,248.3 2023.3,249.0 2024.9,249.8 2026.5,250.7 2028.2,251.5 2030.0,252.5 2031.7,253.4 2033.5,254.4 2035.2,255.4 2037.0,256.4 2038.7,257.5 2040.5,258.6 2042.2,259.6 2044.0,260.8 2045.7,261.9 2047.5,263.0 2049.2,264.1 2051.0,265.2 2052.7,266.3 2054.5,267.4 2056.2,268.5 2058.0,269.6 2059.7,270.7 2061.5,271.8 2063.2,273.0 2064.9,274.1 2066.7,275.3 2068.5,276.5 2070.2,277.7 2072.0,279.0 2073.7,280.2 2075.3,281.4 2077.0,282.5 2078.7,283.7 2080.4,284.9 2082.0,286.2 2083.7,287.4 2085.4,288.7 2087.1,290.1 2088.8,291.4 2090.5,292.9 2092.1,294.4 2093.8,295.9 2095.1,297.2 2096.5,298.5 2097.8,299.9 2099.2,301.2 2100.5,302.6 2101.8,304.1 2103.2,305.5 2104.5,307.0 2105.8,308.5 2107.1,310.1 2108.4,311.6 2109.8,313.3 2111.1,314.9 2112.4,316.6 2113.7,318.3 2115.0,320.0 2116.1,321.5 2117.2,323.0 2118.4,324.5 2119.5,326.1 2120.7,327.7 2121.8,329.3 2123.0,331.0 2124.1,332.6 2125.3,334.3 2126.4,336.0 2127.5,337.7 2128.6,339.4 2129.7,341.2 2130.8,342.9 2131.8,344.7 2132.8,346.5 2133.7,348.3 2134.6,350.2 2135.5,352.0 2136.3,353.8 2137.1,355.7 2137.8,357.6 2138.5,359.5 2139.2,361.4 2139.8,363.3 2140.4,365.2 2141.0,367.1 2141.5,369.1 2142.1,371.1 2142.6,373.1 2143.1,375.1 2143.7,377.2 2144.2,379.2 2144.7,381.3 2145.3,383.5 2145.8,385.6 2146.4,387.8 2147.0,390.0 2147.5,391.8 2148.0,393.6 2148.5,395.3 2148.9,396.9 2149.4,398.6 2149.9,400.2 2150.3,401.9 2150.8,403.5 2151.2,405.2 2151.7,406.9 2152.2,408.6 2152.6,410.4 2153.1,412.3 2153.6,414.2 2154.1,416.2 2154.6,418.3 2155.2,420.5 2155.7,422.8 2156.3,425.2 2156.9,427.8 2157.5,430.5 2158.1,433.4 2158.8,436.4 2159.1,437.9 2159.5,439.4 2159.8,441.0 2160.2,442.7 2160.6,444.3 2160.9,446.1 2161.3,447.8 2161.7,449.6 2162.1,451.5 2162.6,453.4 2163.0,455.3 2163.4,457.2 2163.8,459.2 2164.3,461.2 2164.7,463.3 2165.2,465.3 2165.6,467.4 2166.1,469.5 2166.5,471.6 2167.0,473.8 2167.5,475.9 2167.9,478.1 2168.4,480.2 2168.8,482.4 2169.3,484.6 2169.7,486.8 2170.2,488.9 2170.7,491.1 2171.1,493.3 2171.6,495.5 2172.0,497.6 2172.4,499.8 2172.9,501.9 2173.3,504.1 2173.7,506.2 2174.1,508.3 2174.5,510.3 2174.9,512.4 2175.3,514.4 2175.7,516.4 2176.0,518.4 2176.4,520.4 2176.7,522.3 2177.0,524.2 2177.4,526.0 2177.7,527.8 2178.0,529.6 2178.2,531.3 2178.5,533.0 2178.9,535.4 2179.2,537.8 2179.5,540.2 2179.8,542.4 2180.1,544.7 2180.3,546.9 2180.6,549.1 2180.8,551.2 2181.0,553.3 2181.2,555.3 2181.3,557.4 2181.5,559.4 2181.6,561.4 2181.8,563.3 2181.9,565.2 2182.0,567.2 2182.1,569.0 2182.2,570.9 2182.3,572.8 2182.4,574.7 2182.5,576.5 2182.5,578.3 2182.6,580.2 2182.7,582.0 2182.8,583.9 2182.9,585.7 2183.0,587.6 2183.1,589.4 2183.2,591.3 2183.3,593.2 2183.4,595.1 2183.6,597.0 2183.7,598.9 2183.9,601.0 2184.0,603.0 2184.2,605.1 2184.3,607.2 2184.5,609.2 2184.6,611.3 2184.7,613.4 2184.9,615.4 2185.0,617.5 2185.2,619.6 2185.3,621.6 2185.4,623.7 2185.6,625.7 2185.7,627.8 2185.9,629.8 2186.0,631.8 2186.1,633.8 2186.3,635.9 2186.4,637.9 2186.6,639.9 2186.7,641.9 2186.9,643.8 2187.0,645.8 2187.2,647.8 2187.3,649.7 2187.5,651.6 2187.6,653.6 2187.8,655.5 2188.0,657.4 2188.1,659.2 2188.3,661.1 2188.5,663.3 2188.7,665.6 2189.0,667.8 2189.2,670.1 2189.4,672.4 2189.7,674.6 2189.9,676.9 2190.2,679.2 2190.4,681.4 2190.7,683.7 2190.9,685.9 2191.2,688.1 2191.4,690.3 2191.7,692.4 2192.0,694.5 2192.2,696.6 2192.5,698.6 2192.7,700.5 2193.0,702.5 2193.2,704.3 2193.5,706.1 2193.7,707.8 2193.9,709.5 2194.2,711.1 2194.4,712.6 2194.6,714.0 2195.2,717.6 2195.8,720.7 2196.3,723.2 2196.8,725.2 2197.3,727.0 2197.8,728.5 2198.3,729.9 2198.8,731.3 2199.2,732.7 2200.1,735.6 2201.0,737.9 2201.7,739.6 2202.5,741.0 2204.0,743.0 2205.4,743.6 2206.8,742.6 2208.0,740.0 2208.4,738.8 2208.8,737.6 2209.1,736.0 2209.5,733.5 2210.1,729.6 2210.3,728.2 2210.5,726.6 2210.7,724.9 2211.0,723.0 2211.2,721.0 2211.5,718.9 2211.8,716.7 2212.1,714.5 2212.4,712.2 2212.6,709.9 2212.9,707.5 2213.2,705.2 2213.5,702.9 2213.8,700.6 2214.0,698.4 2214.3,696.2 2214.6,694.2 2214.8,692.2 2215.1,689.9 2215.4,687.7 2215.6,685.5 2215.9,683.4 2216.2,681.2 2216.4,679.1 2216.7,677.1 2216.9,675.0 2217.2,673.0 2217.4,671.0 2217.6,669.0 2217.9,667.0 2218.1,665.0 2218.3,663.1 2218.5,661.1 2218.7,658.9 2219.0,656.9 2219.2,655.0 2219.4,653.2 2219.6,651.3 2219.8,649.5 2220.0,647.7 2220.2,645.7 2220.3,643.7 2220.5,641.5 2220.7,639.1 2220.8,636.6 2221.0,633.7 2221.1,632.1 2221.2,630.5 2221.2,628.8 2221.3,627.1 2221.4,625.3 2221.4,623.5 2221.5,621.6 2221.5,619.7 2221.6,617.7 2221.6,615.8 2221.7,613.8 2221.7,611.7 2221.8,609.6 2221.8,607.5 2221.9,605.4 2222.0,603.3 2222.0,601.1 2222.1,598.9 2222.1,596.7 2222.2,594.5 2222.3,592.3 2222.3,590.0 2222.4,587.8 2222.5,585.6 2222.6,583.3 2222.7,581.5 2222.8,579.6 2222.8,577.6 2222.9,575.6 2223.0,573.6 2223.1,571.5 2223.2,569.4 2223.3,567.3 2223.4,565.2 2223.5,563.0 2223.7,560.8 2223.8,558.7 2223.9,556.5 2224.0,554.3 2224.1,552.1 2224.2,549.9 2224.3,547.7 2224.4,545.6 2224.5,543.5 2224.7,541.4 2224.8,539.3 2224.9,537.2 2225.0,535.2 2225.1,533.3 2225.2,531.4 2225.3,529.5 2225.4,527.7 2225.5,525.9 2225.5,524.3 2225.6,522.6 2225.7,521.1 2225.8,518.1 2226.0,515.5 2226.1,513.0 2226.2,510.8 2226.3,508.7 2226.4,506.8 2226.5,505.0 2226.6,503.2 2226.7,501.5 2226.8,499.8 2226.9,498.0 2227.0,496.2 2227.0,494.3 2227.1,492.2 2227.2,490.0 2227.3,488.2 2227.3,486.5 2227.3,484.9 2227.4,483.3 2227.4,481.7 2227.4,480.2 2227.5,478.6 2227.5,477.0 2227.5,475.3 2227.5,473.6 2227.6,471.8 2227.6,469.8 2227.6,467.8 2227.7,465.5 2227.8,463.2 2227.8,460.6 2227.9,457.8 2228.1,454.8 2228.2,451.5 2228.3,450.0 2228.3,448.5 2228.4,446.9 2228.5,445.2 2228.6,443.4 2228.6,441.6 2228.7,439.7 2228.8,437.8 2228.9,435.8 2229.0,433.8 2229.1,431.7 2229.2,429.6 2229.3,427.5 2229.4,425.3 2229.5,423.1 2229.6,420.9 2229.8,418.6 2229.9,416.3 2230.0,414.1 2230.1,411.8 2230.2,409.4 2230.3,407.1 2230.5,404.8 2230.6,402.5 2230.7,400.2 2230.8,397.9 2230.9,395.6 2231.0,393.4 2231.2,391.1 2231.3,388.9 2231.4,386.7 2231.5,384.5 2231.6,382.4 2231.7,380.3 2231.8,378.3 2231.9,376.3 2232.0,374.3 2232.2,372.4 2232.3,370.5 2232.4,368.8 2232.4,367.0 2232.5,365.4 2232.6,363.8 2232.7,362.2 2232.8,360.8 2233.0,357.2 2233.2,354.0 2233.4,351.1 2233.6,348.4 2233.7,345.9 2233.9,343.7 2234.0,341.6 2234.2,339.7 2234.3,337.9 2234.4,336.2 2234.6,334.6 2234.7,333.0 2234.9,331.5 2235.0,329.9 2235.2,328.4 2235.3,326.7 2235.5,325.0 2235.8,322.5 2236.0,320.1 2236.3,317.8 2236.6,315.6 2236.9,313.4 2237.2,311.3 2237.5,309.3 2237.8,307.4 2238.0,305.5 2238.3,303.7 2238.6,302.0 2238.8,300.4 2239.2,297.5 2239.6,294.9 2239.9,292.7 2240.3,290.6 2240.6,288.8 2241.0,287.0 2241.6,284.7 2242.2,282.8 2242.9,281.0 2243.6,279.1 2244.4,276.9 2245.3,274.6 2246.1,272.4 2247.0,270.5 2248.4,267.9 2250.2,265.9 2251.6,264.7 2253.4,263.4 2255.2,262.3 2256.8,261.3 2255.4,260.0 2262.0,259.3 2263.2,259.3 2264.5,259.2 2266.0,259.2 2267.6,259.2 2269.3,259.2 2271.1,259.2 2273.1,259.2 2275.1,259.2 2277.3,259.2 2279.5,259.2 2281.8,259.2 2284.2,259.2 2286.6,259.2 2289.0,259.2 2291.5,259.2 2294.0,259.2 2296.5,259.2 2299.0,259.2 2301.5,259.2 2304.0,259.2 2306.4,259.2 2308.9,259.2 2311.2,259.2 2313.6,259.2 2315.8,259.2 2318.0,259.3 2320.1,259.3 2322.1,259.3 2324.0,259.3 2325.8,259.3 2327.5,259.3 2329.0,259.3 2330.5,259.3 2331.7,259.3 2332.8,259.3" fill="none" stroke="#FF0000" stroke-width="2" stroke-linejoin="round" stroke-linecap="butt"/>
<rect x="1414.2" y="143.7" width="12.0" height="12.0" fill="#FF0000"/><rect x="1456.3" y="148.1" width="12.0" height="12.0" fill="#FF0000"/><rect x="1498.4" y="155.2" width="12.0" height="12.0" fill="#FF0000"/><rect x="1540.5" y="161.7" width="12.0" height="12.0" fill="#FF0000"/><rect x="1582.6" y="168.2" width="12.0" height="12.0" fill="#FF0000"/><rect x="1624.7" y="173.4" width="12.0" height="12.0" fill="#FF0000"/><rect x="1666.8" y="178.6" width="12.0" height="12.0" fill="#FF0000"/><rect x="1708.9" y="184.6" width="12.0" height="12.0" fill="#FF0000"/><rect x="1751.0" y="190.7" width="12.0" height="12.0" fill="#FF0000"/><rect x="1793.1" y="197.9" width="12.0" height="12.0" fill="#FF0000"/><rect x="1835.2" y="206.0" width="12.0" height="12.0" fill="#FF0000"/><rect x="1877.3" y="211.7" width="12.0" height="12.0" fill="#FF0000"/><rect x="1919.4" y="216.6" width="12.0" height="12.0" fill="#FF0000"/><rect x="1961.5" y="225.6" width="12.0" height="12.0" fill="#FF0000"/><rect x="2003.6" y="237.6" width="12.0" height="12.0" fill="#FF0000"/><rect x="2045.7" y="259.6" width="12.0" height="12.0" fill="#FF0000"/><rect x="2087.8" y="289.9" width="12.0" height="12.0" fill="#FF0000"/><rect x="2129.9" y="346.9" width="12.0" height="12.0" fill="#FF0000"/><rect x="2173.0" y="526.5" width="12.0" height="12.0" fill="#FF0000"/><rect x="2215.0" y="627.7" width="12.0" height="12.0" fill="#FF0000"/><rect x="2256.2" y="253.3" width="12.0" height="12.0" fill="#FF0000"/><rect x="2298.3" y="253.2" width="12.0" height="12.0" fill="#FF0000"/>
<polyline points="1423.0,138.7 1424.1,138.8 1425.4,139.0 1426.9,139.2 1428.5,139.4 1430.3,139.6 1432.2,139.8 1434.2,140.1 1436.4,140.4 1438.6,140.6 1440.8,140.9 1443.1,141.2 1445.5,141.5 1447.9,141.8 1450.2,142.1 1452.6,142.4 1455.0,142.7 1457.3,143.0 1459.5,143.3 1461.7,143.6 1463.6,143.9 1465.6,144.2 1467.6,144.5 1469.6,144.8 1471.6,145.1 1473.6,145.4 1475.6,145.7 1477.7,146.0 1479.7,146.4 1481.8,146.7 1483.8,147.0 1485.9,147.3 1488.0,147.7 1490.0,148.0 1492.1,148.3 1494.2,148.6 1496.2,148.9 1498.3,149.2 1500.3,149.5 1502.4,149.8 1504.4,150.1 1506.4,150.4 1508.5,150.6 1510.5,150.9 1512.5,151.2 1514.5,151.4 1516.6,151.7 1518.6,151.9 1520.6,152.2 1522.6,152.4 1524.7,152.7 1526.7,152.9 1528.7,153.1 1530.7,153.4 1532.8,153.6 1534.8,153.8 1536.8,154.1 1538.8,154.3 1540.8,154.6 1542.8,154.8 1544.8,155.1 1546.8,155.3 1548.9,155.6 1551.0,155.8 1553.1,156.1 1555.1,156.3 1557.2,156.6 1559.3,156.9 1561.3,157.1 1563.4,157.4 1565.4,157.7 1567.5,157.9 1569.6,158.2 1571.6,158.5 1573.7,158.7 1575.7,159.0 1577.8,159.3 1579.9,159.5 1582.0,159.8 1584.0,160.1 1586.1,160.3 1588.2,160.6 1590.2,160.9 1592.2,161.1 1594.2,161.4 1596.2,161.6 1598.2,161.9 1600.2,162.2 1602.2,162.4 1604.2,162.7 1606.3,163.0 1608.3,163.2 1610.3,163.5 1612.3,163.8 1614.3,164.1 1616.4,164.3 1618.4,164.6 1620.4,164.9 1622.4,165.1 1624.4,165.4 1626.5,165.7 1628.5,165.9 1630.5,166.2 1632.5,166.5 1634.5,166.7 1636.5,167.0 1638.6,167.3 1640.6,167.5 1642.6,167.8 1644.6,168.1 1646.6,168.3 1648.7,168.6 1650.7,168.9 1652.7,169.1 1654.7,169.4 1656.7,169.7 1658.7,169.9 1660.8,170.2 1662.8,170.5 1664.8,170.7 1666.8,171.0 1668.8,171.3 1670.8,171.5 1672.8,171.8 1674.8,172.1 1676.8,172.3 1678.8,172.6 1680.8,172.9 1682.8,173.2 1684.8,173.4 1686.8,173.7 1688.7,174.0 1690.7,174.2 1692.7,174.5 1694.7,174.8 1696.7,175.1 1698.7,175.3 1700.7,175.6 1702.6,175.9 1704.6,176.1 1706.6,176.4 1708.6,176.7 1710.6,177.0 1712.6,177.2 1714.6,177.5 1716.6,177.8 1718.6,178.0 1720.6,178.3 1722.6,178.6 1724.6,178.9 1726.6,179.1 1728.6,179.4 1730.6,179.7 1732.6,180.0 1734.7,180.2 1736.7,180.5 1738.7,180.8 1740.7,181.1 1742.7,181.3 1744.7,181.6 1746.7,181.9 1748.7,182.1 1750.8,182.4 1752.8,182.7 1754.8,182.9 1756.8,183.2 1758.8,183.5 1760.8,183.7 1762.9,184.0 1764.9,184.2 1766.9,184.5 1768.9,184.7 1770.9,185.0 1773.0,185.2 1775.0,185.5 1777.0,185.7 1779.0,186.0 1781.1,186.2 1783.1,186.5 1785.1,186.7 1787.1,187.0 1789.1,187.2 1791.2,187.4 1793.2,187.7 1795.2,187.9 1797.2,188.2 1799.2,188.4 1801.2,188.7 1803.2,188.9 1805.2,189.1 1807.2,189.4 1809.2,189.6 1811.2,189.8 1813.2,190.1 1815.2,190.3 1817.1,190.5 1819.1,190.8 1821.1,191.0 1823.1,191.2 1825.1,191.5 1827.1,191.7 1829.1,192.0 1831.0,192.2 1833.0,192.4 1835.0,192.7 1837.0,193.0 1839.0,193.2 1841.0,193.5 1843.0,193.8 1845.0,194.1 1847.0,194.4 1849.0,194.7 1851.0,195.0 1853.0,195.3 1855.0,195.6 1857.0,195.9 1859.0,196.2 1861.0,196.5 1863.0,196.8 1865.0,197.1 1867.0,197.5 1869.0,197.8 1871.0,198.1 1873.0,198.4 1875.0,198.7 1877.0,199.1 1879.0,199.4 1881.0,199.7 1883.0,200.0 1885.0,200.3 1887.0,200.6 1889.0,200.9 1891.0,201.2 1893.0,201.5 1895.0,201.8 1896.9,202.1 1898.9,202.4 1900.9,202.7 1902.9,203.0 1904.9,203.3 1906.9,203.6 1908.9,203.8 1910.9,204.2 1912.9,204.5 1914.8,204.8 1916.8,205.1 1918.8,205.4 1920.8,205.7 1922.8,206.1 1924.8,206.4 1926.8,206.7 1928.8,207.1 1930.8,207.4 1932.8,207.8 1934.8,208.1 1936.7,208.4 1938.7,208.8 1940.7,209.1 1942.7,209.5 1944.7,209.8 1946.7,210.2 1948.7,210.5 1950.7,210.9 1952.7,211.3 1954.7,211.7 1956.7,212.1 1958.7,212.5 1960.7,213.0 1962.7,213.4 1964.7,213.9 1966.7,214.4 1968.6,214.9 1970.6,215.4 1972.6,215.9 1974.7,216.5 1976.7,217.1 1978.8,217.7 1980.9,218.3 1983.0,218.9 1985.1,219.5 1987.2,220.1 1989.2,220.7 1991.3,221.4 1993.3,222.0 1995.2,222.6 1997.2,223.3 1999.1,223.9 2000.9,224.5 2002.7,225.1 2004.4,225.7 2006.1,226.2 2007.6,226.8 2009.1,227.3 2011.8,228.3 2014.2,229.2 2016.3,230.0 2018.3,230.9 2020.0,231.7 2021.7,232.4 2023.3,233.3 2024.9,234.1 2026.5,235.0 2028.2,235.9 2030.0,237.0 2031.7,238.0 2033.5,239.1 2035.2,240.3 2037.0,241.4 2038.7,242.7 2040.5,243.9 2042.2,245.1 2044.0,246.4 2045.7,247.7 2047.5,249.0 2049.2,250.2 2051.0,251.5 2052.6,252.6 2054.2,253.8 2055.8,254.9 2057.4,256.1 2059.0,257.2 2060.6,258.3 2062.3,259.5 2063.9,260.7 2065.5,261.9 2067.1,263.1 2068.7,264.4 2070.4,265.7 2072.0,267.0 2073.5,268.3 2075.1,269.5 2076.6,270.8 2078.2,272.1 2079.8,273.4 2081.3,274.7 2082.9,276.1 2084.5,277.5 2086.0,278.9 2087.6,280.4 2089.2,281.9 2090.7,283.5 2092.3,285.1 2093.8,286.8 2095.1,288.2 2096.3,289.7 2097.6,291.2 2098.8,292.7 2100.1,294.2 2101.4,295.8 2102.6,297.4 2103.9,299.0 2105.1,300.6 2106.4,302.3 2107.6,304.0 2108.8,305.8 2110.1,307.6 2111.3,309.4 2112.5,311.2 2113.8,313.1 2115.0,315.0 2116.0,316.6 2117.0,318.2 2118.0,319.9 2119.1,321.5 2120.1,323.3 2121.2,325.0 2122.2,326.8 2123.3,328.6 2124.3,330.4 2125.3,332.2 2126.4,334.0 2127.4,335.9 2128.4,337.7 2129.4,339.6 2130.3,341.4 2131.3,343.3 2132.2,345.1 2133.0,347.0 2133.9,348.8 2134.7,350.6 2135.5,352.4 2136.3,354.4 2137.1,356.3 2137.8,358.2 2138.5,360.1 2139.2,362.1 2139.8,364.0 2140.4,365.9 2141.0,367.8 2141.6,369.7 2142.2,371.6 2142.7,373.5 2143.2,375.5 2143.8,377.5 2144.3,379.5 2144.8,381.5 2145.3,383.6 2145.9,385.7 2146.4,387.8 2147.0,390.0 2147.5,391.8 2147.9,393.6 2148.3,395.4 2148.7,397.1 2149.1,398.9 2149.5,400.6 2149.9,402.3 2150.2,404.1 2150.6,405.9 2151.0,407.7 2151.4,409.5 2151.7,411.4 2152.1,413.3 2152.5,415.3 2153.0,417.3 2153.4,419.4 2153.9,421.6 2154.4,423.8 2154.9,426.1 2155.4,428.5 2156.0,431.1 2156.6,433.7 2157.3,436.4 2157.7,437.9 2158.1,439.5 2158.5,441.2 2159.0,442.8 2159.4,444.5 2159.9,446.2 2160.4,448.0 2160.9,449.8 2161.4,451.6 2161.9,453.5 2162.5,455.4 2163.0,457.3 2163.6,459.2 2164.1,461.1 2164.7,463.1 2165.3,465.1 2165.8,467.1 2166.4,469.1 2167.0,471.1 2167.6,473.2 2168.2,475.2 2168.7,477.3 2169.3,479.4 2169.9,481.4 2170.5,483.5 2171.0,485.6 2171.6,487.7 2172.1,489.8 2172.7,491.9 2173.2,493.9 2173.7,496.0 2174.2,498.1 2174.7,500.1 2175.2,502.2 2175.7,504.2 2176.1,506.2 2176.6,508.2 2177.0,510.2 2177.4,512.2 2177.7,514.2 2178.1,516.1 2178.4,518.0 2178.7,520.1 2179.1,522.1 2179.3,524.2 2179.6,526.2 2179.9,528.2 2180.1,530.1 2180.3,532.1 2180.5,534.0 2180.7,536.0 2180.9,537.9 2181.1,539.8 2181.2,541.7 2181.3,543.6 2181.5,545.5 2181.6,547.4 2181.7,549.3 2181.8,551.2 2181.9,553.1 2182.0,555.0 2182.1,556.9 2182.1,558.9 2182.2,560.8 2182.3,562.8 2182.4,564.8 2182.4,566.8 2182.5,568.8 2182.6,570.9 2182.6,573.0 2182.7,575.1 2182.8,577.2 2182.9,579.4 2183.0,581.6 2183.1,583.9 2183.2,586.2 2183.3,588.5 2183.4,590.9 2183.6,593.3 2183.7,595.8 2183.8,597.5 2183.9,599.3 2184.0,601.1 2184.1,602.9 2184.2,604.8 2184.3,606.7 2184.5,608.7 2184.6,610.7 2184.7,612.7 2184.8,614.8 2184.9,616.8 2185.0,618.9 2185.1,621.1 2185.3,623.2 2185.4,625.4 2185.5,627.6 2185.6,629.8 2185.7,632.0 2185.9,634.2 2186.0,636.5 2186.1,638.7 2186.2,641.0 2186.3,643.2 2186.5,645.5 2186.6,647.8 2186.7,650.0 2186.8,652.3 2186.9,654.5 2187.1,656.8 2187.2,659.0 2187.3,661.2 2187.4,663.4 2187.5,665.6 2187.7,667.8 2187.8,670.0 2187.9,672.1 2188.0,674.3 2188.1,676.4 2188.2,678.4 2188.3,680.5 2188.5,682.5 2188.6,684.5 2188.7,686.4 2188.8,688.3 2188.9,690.2 2189.0,692.0 2189.1,693.8 2189.2,695.6 2189.3,697.3 2189.4,698.9 2189.5,700.6 2189.6,702.1 2189.6,703.6 2189.7,705.1 2189.8,706.5 2189.9,707.8 2190.2,711.9 2190.4,715.5 2190.6,718.7 2190.8,721.6 2191.0,724.1 2191.2,726.4 2191.4,728.4 2191.5,730.1 2191.7,731.7 2191.8,733.1 2192.0,734.4 2192.1,735.7 2192.3,736.9 2192.4,738.1 2192.5,739.3 2192.7,740.6 2192.8,742.0 2193.1,745.5 2193.4,748.6 2193.6,751.5 2193.9,753.9 2194.1,755.7 2194.3,757.0 2194.6,757.6 2194.9,757.2 2195.3,755.8 2195.6,753.6 2195.9,750.9 2196.3,747.9 2196.6,745.0 2196.8,743.4 2197.0,741.9 2197.2,740.5 2197.3,739.0 2197.5,737.3 2197.7,735.4 2197.9,733.2 2198.1,730.5 2198.4,727.2 2198.6,723.4 2198.7,722.0 2198.8,720.5 2198.9,719.0 2199.0,717.3 2199.0,715.6 2199.1,713.9 2199.2,712.1 2199.3,710.2 2199.4,708.3 2199.5,706.3 2199.7,704.3 2199.8,702.2 2199.9,700.1 2200.0,698.0 2200.1,695.8 2200.2,693.6 2200.3,691.4 2200.4,689.2 2200.5,687.0 2200.6,684.8 2200.7,682.5 2200.8,680.3 2200.9,678.1 2201.0,675.9 2201.1,673.7 2201.2,671.5 2201.3,669.4 2201.4,667.3 2201.5,665.2 2201.6,663.1 2201.7,661.1 2201.8,659.0 2201.9,656.9 2202.0,654.8 2202.1,652.7 2202.1,650.5 2202.2,648.3 2202.3,646.2 2202.4,644.0 2202.5,641.8 2202.6,639.6 2202.6,637.4 2202.7,635.2 2202.8,633.0 2202.9,630.8 2203.0,628.7 2203.0,626.5 2203.1,624.4 2203.2,622.3 2203.3,620.2 2203.3,618.2 2203.4,616.2 2203.5,614.2 2203.5,612.2 2203.6,610.4 2203.7,608.5 2203.7,606.7 2203.8,604.9 2203.9,603.2 2203.9,601.6 2204.0,600.0 2204.1,597.2 2204.2,594.6 2204.3,592.1 2204.4,589.8 2204.5,587.6 2204.6,585.6 2204.7,583.6 2204.8,581.8 2204.9,580.0 2205.0,578.2 2205.0,576.5 2205.1,574.8 2205.2,573.1 2205.3,571.4 2205.3,569.6 2205.4,567.8 2205.5,565.7 2205.6,563.8 2205.6,562.2 2205.7,560.6 2205.7,559.1 2205.8,557.6 2205.8,556.0 2205.9,554.3 2205.9,552.3 2206.0,550.1 2206.1,547.5 2206.1,544.5 2206.2,541.0 2206.2,539.6 2206.3,538.0 2206.3,536.5 2206.3,534.8 2206.3,533.1 2206.4,531.3 2206.4,529.5 2206.4,527.6 2206.5,525.6 2206.5,523.6 2206.5,521.6 2206.6,519.5 2206.6,517.4 2206.6,515.3 2206.7,513.1 2206.7,510.9 2206.7,508.7 2206.8,506.5 2206.8,504.3 2206.8,502.0 2206.9,499.8 2206.9,497.5 2206.9,495.3 2207.0,493.1 2207.0,490.8 2207.1,488.6 2207.1,486.4 2207.1,484.3 2207.2,482.1 2207.2,480.0 2207.3,477.9 2207.3,475.9 2207.4,473.9 2207.4,471.9 2207.5,470.0 2207.6,467.8 2207.6,465.7 2207.7,463.5 2207.8,461.4 2207.8,459.4 2207.9,457.3 2208.0,455.3 2208.0,453.3 2208.1,451.3 2208.2,449.3 2208.3,447.3 2208.4,445.4 2208.4,443.4 2208.5,441.5 2208.6,439.5 2208.7,437.6 2208.8,435.6 2208.9,433.7 2208.9,431.7 2209.0,429.7 2209.1,427.8 2209.2,425.8 2209.3,423.8 2209.4,421.8 2209.5,419.7 2209.6,417.7 2209.8,415.6 2209.9,413.5 2210.0,411.4 2210.1,409.2 2210.2,407.3 2210.3,405.3 2210.4,403.3 2210.6,401.4 2210.7,399.3 2210.8,397.3 2210.9,395.3 2211.0,393.2 2211.2,391.2 2211.3,389.1 2211.4,387.0 2211.6,384.9 2211.7,382.8 2211.9,380.7 2212.0,378.6 2212.1,376.4 2212.3,374.3 2212.4,372.2 2212.6,370.1 2212.7,368.0 2212.9,365.9 2213.0,363.8 2213.1,361.7 2213.3,359.6 2213.4,357.6 2213.6,355.5 2213.7,353.5 2213.9,351.4 2214.0,349.4 2214.2,347.4 2214.3,345.5 2214.4,343.5 2214.6,341.6 2214.7,339.7 2214.9,337.5 2215.0,335.2 2215.2,333.0 2215.3,330.7 2215.5,328.4 2215.7,326.1 2215.8,323.8 2216.0,321.5 2216.2,319.2 2216.3,316.9 2216.5,314.7 2216.7,312.4 2216.8,310.2 2217.0,308.0 2217.1,305.8 2217.3,303.7 2217.5,301.6 2217.6,299.5 2217.8,297.5 2217.9,295.5 2218.1,293.6 2218.2,291.8 2218.4,290.0 2218.5,288.3 2218.7,286.6 2218.8,285.1 2218.9,283.6 2219.1,282.1 2219.2,280.8 2219.6,276.7 2220.0,273.7 2220.4,271.5 2220.7,269.9 2221.0,268.7 2221.3,267.6 2221.6,266.5 2222.0,265.0 2222.6,262.4 2223.1,260.1 2223.7,257.9 2224.3,255.9 2225.1,254.0 2226.3,251.7 2227.7,249.6 2229.1,247.7 2230.4,246.1 2232.3,243.9 2234.0,242.5 2234.6,241.6 2237.7,241.1 2238.9,241.1 2240.0,241.0 2241.2,241.0 2242.5,241.0 2244.0,241.0 2245.6,241.0 2247.5,241.0 2249.6,241.0 2252.1,241.1 2254.9,241.1 2258.2,241.1 2261.9,241.1 2263.3,241.1 2264.9,241.1 2266.5,241.1 2268.3,241.1 2270.2,241.1 2272.2,241.1 2274.2,241.1 2276.4,241.1 2278.6,241.1 2280.8,241.1 2283.1,241.1 2285.5,241.1 2287.9,241.1 2290.3,241.1 2292.7,241.1 2295.2,241.1 2297.6,241.1 2300.1,241.1 2302.5,241.1 2304.9,241.1 2307.3,241.1 2309.6,241.1 2311.9,241.1 2314.2,241.1 2316.3,241.1 2318.5,241.1 2320.5,241.1 2322.4,241.1 2324.2,241.1 2326.0,241.1 2327.6,241.1 2329.1,241.1 2330.5,241.1 2331.7,241.1 2332.8,241.1" fill="none" stroke="#12609E" stroke-width="2" stroke-linejoin="round" stroke-linecap="butt"/>
<circle cx="1420.2" cy="138.3" r="6.2" fill="#12609E"/><circle cx="1462.3" cy="143.7" r="6.2" fill="#12609E"/><circle cx="1504.4" cy="150.1" r="6.2" fill="#12609E"/><circle cx="1546.5" cy="155.3" r="6.2" fill="#12609E"/><circle cx="1588.6" cy="160.7" r="6.2" fill="#12609E"/><circle cx="1630.7" cy="166.2" r="6.2" fill="#12609E"/><circle cx="1672.8" cy="171.8" r="6.2" fill="#12609E"/><circle cx="1714.9" cy="177.5" r="6.2" fill="#12609E"/><circle cx="1757.0" cy="183.2" r="6.2" fill="#12609E"/><circle cx="1799.1" cy="188.4" r="6.2" fill="#12609E"/><circle cx="1841.2" cy="193.5" r="6.2" fill="#12609E"/><circle cx="1883.3" cy="200.0" r="6.2" fill="#12609E"/><circle cx="1925.4" cy="206.5" r="6.2" fill="#12609E"/><circle cx="1967.5" cy="214.6" r="6.2" fill="#12609E"/><circle cx="2009.6" cy="227.5" r="6.2" fill="#12609E"/><circle cx="2051.7" cy="252.0" r="6.2" fill="#12609E"/><circle cx="2093.8" cy="286.8" r="6.2" fill="#12609E"/><circle cx="2135.9" cy="353.4" r="6.2" fill="#12609E"/><circle cx="2177.4" cy="519.6" r="6.2" fill="#12609E"/><circle cx="2219.5" cy="281.0" r="6.2" fill="#12609E"/><circle cx="2262.2" cy="241.1" r="6.2" fill="#12609E"/><circle cx="2304.3" cy="241.1" r="6.2" fill="#12609E"/>
<polyline points="1423.0,123.4 1424.1,123.5 1425.4,123.6 1426.9,123.7 1428.5,123.8 1430.3,123.9 1432.2,124.0 1434.2,124.1 1436.4,124.3 1438.6,124.4 1440.8,124.6 1443.1,124.8 1445.5,124.9 1447.9,125.1 1450.2,125.3 1452.6,125.5 1455.0,125.7 1457.3,125.9 1459.5,126.1 1461.7,126.4 1463.6,126.6 1465.6,126.8 1467.6,127.1 1469.6,127.3 1471.6,127.6 1473.6,127.9 1475.6,128.2 1477.7,128.5 1479.7,128.8 1481.8,129.1 1483.8,129.4 1485.9,129.7 1488.0,130.0 1490.0,130.3 1492.1,130.6 1494.2,130.9 1496.2,131.2 1498.3,131.5 1500.3,131.8 1502.4,132.0 1504.4,132.3 1506.4,132.6 1508.5,132.8 1510.5,133.1 1512.5,133.3 1514.5,133.5 1516.6,133.8 1518.6,134.0 1520.6,134.2 1522.6,134.5 1524.7,134.7 1526.7,134.9 1528.7,135.2 1530.7,135.4 1532.8,135.6 1534.8,135.8 1536.8,136.1 1538.8,136.3 1540.8,136.5 1542.8,136.7 1544.8,137.0 1546.8,137.2 1548.9,137.4 1551.0,137.7 1553.1,137.9 1555.1,138.2 1557.2,138.4 1559.3,138.6 1561.3,138.9 1563.4,139.1 1565.4,139.4 1567.5,139.6 1569.6,139.8 1571.6,140.1 1573.7,140.3 1575.7,140.6 1577.8,140.8 1579.9,141.0 1582.0,141.3 1584.0,141.5 1586.1,141.8 1588.2,142.0 1590.2,142.2 1592.2,142.5 1594.2,142.7 1596.2,142.9 1598.2,143.2 1600.2,143.4 1602.2,143.6 1604.2,143.9 1606.3,144.1 1608.3,144.3 1610.3,144.6 1612.3,144.8 1614.3,145.0 1616.4,145.3 1618.4,145.5 1620.4,145.7 1622.4,146.0 1624.4,146.2 1626.5,146.4 1628.5,146.7 1630.5,146.9 1632.5,147.1 1634.5,147.4 1636.5,147.6 1638.6,147.8 1640.6,148.0 1642.6,148.2 1644.6,148.5 1646.6,148.7 1648.7,148.9 1650.7,149.1 1652.7,149.3 1654.7,149.6 1656.7,149.8 1658.7,150.0 1660.8,150.2 1662.8,150.5 1664.8,150.7 1666.8,150.9 1668.8,151.1 1670.8,151.4 1672.8,151.6 1674.8,151.8 1676.8,152.1 1678.8,152.3 1680.8,152.5 1682.8,152.8 1684.8,153.0 1686.8,153.3 1688.7,153.5 1690.7,153.7 1692.7,154.0 1694.7,154.2 1696.7,154.5 1698.7,154.7 1700.7,155.0 1702.6,155.2 1704.6,155.4 1706.6,155.7 1708.6,155.9 1710.6,156.2 1712.6,156.4 1714.6,156.7 1716.6,156.9 1718.6,157.2 1720.6,157.4 1722.6,157.7 1724.6,157.9 1726.6,158.2 1728.6,158.4 1730.6,158.7 1732.6,158.9 1734.7,159.2 1736.7,159.4 1738.7,159.7 1740.7,159.9 1742.7,160.2 1744.7,160.4 1746.7,160.7 1748.7,161.0 1750.8,161.2 1752.8,161.5 1754.8,161.8 1756.8,162.0 1758.8,162.3 1760.8,162.6 1762.9,162.9 1764.9,163.2 1766.9,163.5 1768.9,163.9 1770.9,164.2 1773.0,164.5 1775.0,164.8 1777.0,165.1 1779.0,165.5 1781.1,165.8 1783.1,166.1 1785.1,166.4 1787.1,166.7 1789.1,167.0 1791.2,167.3 1793.2,167.6 1795.2,167.9 1797.2,168.2 1799.2,168.5 1801.2,168.8 1803.2,169.0 1805.2,169.3 1807.2,169.5 1809.2,169.8 1811.2,170.0 1813.2,170.3 1815.2,170.5 1817.1,170.7 1819.1,170.9 1821.1,171.2 1823.1,171.4 1825.1,171.6 1827.1,171.9 1829.1,172.1 1831.0,172.3 1833.0,172.5 1835.0,172.8 1837.0,173.0 1839.0,173.3 1841.0,173.5 1843.0,173.8 1845.0,174.0 1847.0,174.3 1849.0,174.5 1851.0,174.8 1853.0,175.0 1855.0,175.3 1857.0,175.6 1859.0,175.8 1861.0,176.1 1863.0,176.3 1865.0,176.6 1867.0,176.9 1869.0,177.1 1871.0,177.4 1873.0,177.7 1875.0,177.9 1877.0,178.2 1879.0,178.5 1881.0,178.7 1883.0,179.0 1885.0,179.3 1887.0,179.5 1889.0,179.8 1891.0,180.0 1893.0,180.3 1895.0,180.6 1896.9,180.8 1898.9,181.1 1900.9,181.3 1902.9,181.6 1904.9,181.9 1906.9,182.1 1908.9,182.4 1910.9,182.7 1912.9,182.9 1914.8,183.2 1916.8,183.5 1918.8,183.8 1920.8,184.0 1922.8,184.3 1924.8,184.6 1926.8,184.9 1928.8,185.2 1930.8,185.4 1932.8,185.7 1934.8,186.0 1936.7,186.3 1938.7,186.6 1940.7,186.8 1942.7,187.1 1944.7,187.4 1946.7,187.7 1948.7,188.0 1950.7,188.3 1952.7,188.6 1954.7,188.9 1956.7,189.3 1958.7,189.6 1960.7,190.0 1962.7,190.3 1964.7,190.7 1966.7,191.1 1968.7,191.5 1970.8,192.0 1972.9,192.4 1975.1,192.9 1977.2,193.4 1979.4,193.9 1981.6,194.4 1983.8,194.9 1986.0,195.4 1988.1,196.0 1990.3,196.5 1992.4,197.0 1994.5,197.6 1996.5,198.1 1998.5,198.6 2000.5,199.2 2002.4,199.7 2004.2,200.2 2005.9,200.7 2007.5,201.1 2009.1,201.6 2011.8,202.4 2014.2,203.2 2016.3,204.0 2018.3,204.7 2020.0,205.4 2021.7,206.1 2023.3,206.8 2024.9,207.5 2026.5,208.3 2028.2,209.1 2030.0,210.0 2031.7,210.8 2033.4,211.7 2035.1,212.5 2036.7,213.4 2038.3,214.3 2040.0,215.2 2041.7,216.2 2043.4,217.2 2045.2,218.2 2047.0,219.3 2049.0,220.5 2051.0,221.7 2052.5,222.6 2054.2,223.6 2055.9,224.6 2057.6,225.7 2059.5,226.8 2061.3,227.9 2063.2,229.1 2065.1,230.3 2067.0,231.4 2068.9,232.6 2070.7,233.8 2072.5,234.9 2074.2,236.0 2075.9,237.1 2077.4,238.1 2078.9,239.1 2080.2,240.0 2082.6,241.7 2084.5,243.0 2086.1,244.2 2087.5,245.3 2088.8,246.5 2090.2,247.8 2091.8,249.4 2093.8,251.5 2094.9,252.7 2096.1,254.0 2097.3,255.3 2098.6,256.7 2099.9,258.2 2101.2,259.7 2102.6,261.3 2104.0,262.9 2105.4,264.6 2106.8,266.3 2108.2,268.0 2109.6,269.8 2111.0,271.6 2112.3,273.4 2113.7,275.2 2115.0,277.0 2116.1,278.6 2117.2,280.2 2118.3,281.8 2119.5,283.5 2120.6,285.2 2121.7,287.0 2122.9,288.7 2124.0,290.5 2125.1,292.3 2126.2,294.1 2127.3,295.9 2128.4,297.7 2129.5,299.5 2130.6,301.3 2131.6,303.1 2132.6,304.9 2133.6,306.6 2134.6,308.3 2135.5,310.0 2136.6,311.9 2137.6,313.9 2138.6,315.7 2139.6,317.6 2140.6,319.4 2141.5,321.2 2142.4,323.0 2143.3,324.8 2144.2,326.6 2145.0,328.4 2145.9,330.3 2146.7,332.1 2147.5,334.0 2148.4,336.0 2149.2,338.0 2150.0,340.0 2150.7,341.8 2151.4,343.6 2152.1,345.3 2152.7,347.1 2153.4,348.8 2154.0,350.5 2154.6,352.3 2155.2,354.1 2155.8,355.9 2156.4,357.8 2157.0,359.7 2157.7,361.7 2158.3,363.8 2158.9,366.0 2159.6,368.3 2160.3,370.8 2161.0,373.3 2161.8,376.0 2162.2,377.6 2162.7,379.3 2163.2,381.0 2163.7,382.8 2164.2,384.6 2164.7,386.5 2165.2,388.5 2165.8,390.5 2166.3,392.5 2166.9,394.6 2167.4,396.6 2168.0,398.8 2168.5,400.9 2169.1,403.1 2169.7,405.2 2170.2,407.4 2170.8,409.6 2171.3,411.8 2171.9,413.9 2172.4,416.1 2172.9,418.2 2173.5,420.4 2174.0,422.4 2174.5,424.5 2174.9,426.5 2175.4,428.5 2175.9,430.5 2176.3,432.4 2176.7,434.2 2177.1,436.0 2177.5,437.7 2177.8,439.4 2178.3,442.0 2178.8,444.4 2179.2,446.8 2179.6,449.1 2179.9,451.4 2180.2,453.5 2180.5,455.6 2180.8,457.7 2181.0,459.7 2181.2,461.7 2181.4,463.6 2181.6,465.5 2181.8,467.3 2181.9,469.2 2182.1,471.0 2182.3,472.8 2182.4,474.6 2182.6,476.4 2182.8,478.2 2183.0,480.0 2183.2,482.2 2183.5,484.1 2183.7,486.0 2183.9,487.7 2184.1,489.3 2184.2,490.9 2184.4,492.4 2184.6,494.0 2184.7,495.7 2184.9,497.4 2185.1,499.3 2185.2,501.4 2185.4,503.6 2185.6,506.1 2185.8,508.8 2186.0,511.9 2186.1,513.4 2186.2,515.0 2186.3,516.6 2186.4,518.3 2186.5,520.0 2186.6,521.8 2186.7,523.6 2186.8,525.5 2186.9,527.5 2187.0,529.4 2187.1,531.4 2187.2,533.4 2187.3,535.5 2187.4,537.6 2187.5,539.7 2187.6,541.9 2187.7,544.0 2187.8,546.2 2187.9,548.4 2188.0,550.6 2188.1,552.8 2188.2,555.1 2188.4,557.3 2188.5,559.5 2188.6,561.7 2188.7,564.0 2188.8,566.2 2189.0,568.4 2189.1,570.6 2189.2,572.7 2189.3,574.9 2189.5,577.0 2189.6,579.2 2189.8,581.2 2189.9,583.3 2190.0,585.4 2190.2,587.5 2190.4,589.6 2190.5,591.8 2190.7,594.0 2190.9,596.2 2191.1,598.5 2191.2,600.8 2191.4,603.1 2191.6,605.4 2191.8,607.7 2192.0,610.0 2192.2,612.3 2192.4,614.6 2192.6,616.9 2192.8,619.2 2193.0,621.4 2193.2,623.7 2193.4,625.9 2193.6,628.1 2193.8,630.2 2194.0,632.4 2194.2,634.5 2194.4,636.5 2194.6,638.5 2194.7,640.4 2194.9,642.3 2195.1,644.1 2195.3,645.9 2195.4,647.6 2195.6,649.2 2195.7,650.8 2195.8,652.2 2196.0,653.6 2196.1,654.9 2196.6,659.7 2196.9,663.1 2197.2,665.6 2197.4,667.3 2197.6,668.4 2197.7,669.2 2197.9,670.0 2198.2,671.0 2199.5,673.5 2200.8,673.6 2202.1,674.0 2203.4,671.0 2203.6,669.7 2203.8,668.2 2203.9,666.5 2204.1,664.6 2204.2,662.5 2204.4,660.4 2204.5,658.1 2204.7,655.7 2204.8,653.2 2205.0,650.7 2205.2,648.1 2205.4,645.6 2205.6,643.8 2205.7,641.9 2205.9,640.0 2206.1,638.1 2206.2,636.1 2206.4,634.1 2206.6,632.0 2206.8,629.9 2207.0,627.8 2207.2,625.6 2207.4,623.5 2207.5,621.3 2207.7,619.0 2207.9,616.8 2208.1,614.6 2208.3,612.3 2208.5,610.0 2208.7,608.2 2208.8,606.4 2209.0,604.7 2209.1,603.0 2209.3,601.4 2209.4,599.7 2209.6,598.0 2209.7,596.4 2209.9,594.7 2210.0,592.9 2210.2,591.2 2210.3,589.3 2210.5,587.4 2210.6,585.4 2210.8,583.2 2210.9,581.0 2211.1,578.7 2211.3,576.2 2211.4,573.6 2211.6,570.8 2211.7,567.8 2211.8,566.3 2211.8,564.7 2211.9,563.1 2212.0,561.4 2212.0,559.7 2212.1,558.0 2212.2,556.2 2212.2,554.4 2212.3,552.5 2212.4,550.6 2212.4,548.7 2212.5,546.7 2212.6,544.8 2212.6,542.7 2212.7,540.7 2212.8,538.7 2212.8,536.6 2212.9,534.5 2213.0,532.4 2213.0,530.2 2213.1,528.1 2213.2,525.9 2213.2,523.8 2213.3,521.6 2213.3,519.4 2213.4,517.3 2213.5,515.1 2213.6,512.9 2213.6,510.7 2213.7,508.6 2213.8,506.4 2213.8,504.3 2213.9,502.1 2214.0,500.0 2214.1,497.9 2214.1,495.8 2214.2,493.7 2214.3,491.6 2214.4,489.6 2214.4,487.6 2214.5,485.6 2214.6,483.6 2214.7,481.7 2214.8,479.6 2214.9,477.5 2215.0,475.4 2215.1,473.3 2215.2,471.2 2215.3,469.1 2215.4,467.1 2215.5,465.0 2215.6,462.9 2215.7,460.9 2215.9,458.8 2216.0,456.8 2216.1,454.7 2216.2,452.7 2216.3,450.6 2216.4,448.6 2216.6,446.6 2216.7,444.6 2216.8,442.6 2216.9,440.5 2217.0,438.5 2217.2,436.5 2217.3,434.5 2217.4,432.5 2217.5,430.6 2217.6,428.6 2217.8,426.6 2217.9,424.6 2218.0,422.6 2218.1,420.7 2218.3,418.7 2218.4,416.7 2218.5,414.8 2218.6,412.8 2218.7,410.9 2218.8,408.9 2219.0,407.0 2219.1,405.0 2219.2,403.1 2219.3,401.0 2219.5,398.9 2219.6,396.8 2219.7,394.6 2219.8,392.5 2220.0,390.4 2220.1,388.2 2220.2,386.1 2220.4,383.9 2220.5,381.8 2220.6,379.6 2220.7,377.5 2220.9,375.3 2221.0,373.2 2221.1,371.1 2221.3,369.0 2221.4,366.9 2221.5,364.8 2221.7,362.7 2221.8,360.6 2221.9,358.6 2222.0,356.6 2222.2,354.5 2222.3,352.5 2222.4,350.6 2222.5,348.6 2222.7,346.7 2222.8,344.8 2222.9,342.9 2223.0,341.1 2223.1,339.2 2223.3,337.4 2223.4,335.7 2223.5,334.0 2223.6,332.3 2223.7,330.6 2223.9,328.0 2224.0,325.4 2224.2,322.9 2224.4,320.5 2224.5,318.1 2224.7,315.8 2224.8,313.6 2225.0,311.4 2225.2,309.3 2225.3,307.2 2225.4,305.1 2225.6,303.2 2225.7,301.2 2225.9,299.3 2226.0,297.4 2226.2,295.6 2226.3,293.8 2226.4,292.0 2226.6,290.2 2226.7,288.5 2226.9,286.7 2227.0,285.0 2227.2,282.5 2227.4,280.1 2227.6,277.8 2227.8,275.6 2228.0,273.5 2228.2,271.4 2228.3,269.4 2228.5,267.4 2228.7,265.5 2228.9,263.6 2229.1,261.8 2229.3,260.1 2229.5,258.4 2229.8,256.7 2230.0,255.0 2230.4,252.3 2230.9,249.7 2231.4,247.3 2231.9,244.9 2232.4,242.7 2232.9,240.7 2233.4,238.8 2233.9,237.1 2234.4,235.5 2235.6,232.1 2236.8,230.1 2238.0,228.5 2240.1,226.2 2242.3,224.5 2244.6,223.0 2247.0,222.0 2249.7,221.4 2252.9,221.2 2253.5,221.1 2253.3,221.1 2255.2,221.2 2261.9,221.2 2263.1,221.2 2264.5,221.2 2266.0,221.2 2267.6,221.2 2269.4,221.2 2271.3,221.2 2273.3,221.2 2275.3,221.2 2277.5,221.2 2279.7,221.2 2282.0,221.2 2284.4,221.2 2286.8,221.2 2289.2,221.2 2291.7,221.2 2294.2,221.2 2296.7,221.2 2299.2,221.2 2301.7,221.2 2304.1,221.2 2306.6,221.2 2309.0,221.2 2311.3,221.2 2313.7,221.2 2315.9,221.2 2318.1,221.2 2320.2,221.2 2322.2,221.2 2324.1,221.2 2325.9,221.2 2327.5,221.2 2329.1,221.2 2330.5,221.2 2331.7,221.2 2332.8,221.2" fill="none" stroke="#FFC000" stroke-width="2" stroke-linejoin="round" stroke-linecap="butt"/>
<polygon points="1413.2,127.8 1427.2,127.8 1420.2,115.8" fill="#FFC000"/><polygon points="1455.3,131.0 1469.3,131.0 1462.3,119.0" fill="#FFC000"/><polygon points="1497.4,136.9 1511.4,136.9 1504.4,124.9" fill="#FFC000"/><polygon points="1539.5,141.8 1553.5,141.8 1546.5,129.8" fill="#FFC000"/><polygon points="1581.6,146.6 1595.6,146.6 1588.6,134.6" fill="#FFC000"/><polygon points="1623.7,151.5 1637.7,151.5 1630.7,139.5" fill="#FFC000"/><polygon points="1665.8,156.2 1679.8,156.2 1672.8,144.2" fill="#FFC000"/><polygon points="1707.9,161.3 1721.9,161.3 1714.9,149.3" fill="#FFC000"/><polygon points="1750.0,166.7 1764.0,166.7 1757.0,154.7" fill="#FFC000"/><polygon points="1792.1,173.1 1806.1,173.1 1799.1,161.1" fill="#FFC000"/><polygon points="1834.2,178.1 1848.2,178.1 1841.2,166.1" fill="#FFC000"/><polygon points="1876.3,183.6 1890.3,183.6 1883.3,171.6" fill="#FFC000"/><polygon points="1918.4,189.3 1932.4,189.3 1925.4,177.3" fill="#FFC000"/><polygon points="1960.5,195.9 1974.5,195.9 1967.5,183.9" fill="#FFC000"/><polygon points="2002.6,206.4 2016.6,206.4 2009.6,194.4" fill="#FFC000"/><polygon points="2044.7,226.7 2058.7,226.7 2051.7,214.7" fill="#FFC000"/><polygon points="2086.8,256.1 2100.8,256.1 2093.8,244.1" fill="#FFC000"/><polygon points="2128.9,315.3 2142.9,315.3 2135.9,303.3" fill="#FFC000"/><polygon points="2170.8,444.0 2184.8,444.0 2177.8,432.0" fill="#FFC000"/><polygon points="2212.2,407.7 2226.2,407.7 2219.2,395.7" fill="#FFC000"/><polygon points="2255.2,225.8 2269.2,225.8 2262.2,213.8" fill="#FFC000"/><polygon points="2297.3,225.8 2311.3,225.8 2304.3,213.8" fill="#FFC000"/>
<polyline points="1423.0,133.4 1424.1,133.5 1425.4,133.7 1426.9,133.9 1428.5,134.1 1430.3,134.3 1432.2,134.6 1434.2,134.8 1436.4,135.1 1438.6,135.4 1440.8,135.7 1443.1,136.0 1445.5,136.3 1447.9,136.6 1450.2,136.9 1452.6,137.2 1455.0,137.5 1457.3,137.9 1459.5,138.2 1461.7,138.5 1463.6,138.8 1465.6,139.1 1467.6,139.4 1469.6,139.7 1471.6,140.0 1473.6,140.3 1475.6,140.7 1477.7,141.0 1479.7,141.3 1481.8,141.6 1483.8,142.0 1485.9,142.3 1488.0,142.7 1490.0,143.0 1492.1,143.4 1494.2,143.7 1496.2,144.1 1498.3,144.4 1500.3,144.8 1502.4,145.1 1504.4,145.5 1506.4,145.9 1508.5,146.2 1510.5,146.6 1512.5,147.0 1514.5,147.3 1516.6,147.7 1518.6,148.1 1520.6,148.5 1522.6,148.9 1524.7,149.2 1526.7,149.6 1528.7,150.0 1530.7,150.4 1532.8,150.8 1534.8,151.2 1536.8,151.6 1538.8,152.0 1540.8,152.3 1542.8,152.7 1544.8,153.1 1546.8,153.5 1548.8,153.9 1550.8,154.3 1552.8,154.7 1554.7,155.1 1556.7,155.4 1558.7,155.8 1560.6,156.2 1562.6,156.6 1564.6,157.0 1566.5,157.4 1568.5,157.8 1570.4,158.2 1572.4,158.6 1574.4,159.0 1576.3,159.4 1578.3,159.8 1580.3,160.1 1582.2,160.5 1584.2,160.9 1586.2,161.2 1588.2,161.6 1590.2,162.0 1592.2,162.3 1594.2,162.6 1596.2,163.0 1598.2,163.3 1600.2,163.7 1602.2,164.0 1604.2,164.3 1606.3,164.6 1608.3,165.0 1610.3,165.3 1612.3,165.6 1614.3,165.9 1616.4,166.3 1618.4,166.6 1620.4,166.9 1622.4,167.2 1624.4,167.5 1626.5,167.9 1628.5,168.2 1630.5,168.5 1632.5,168.8 1634.5,169.1 1636.5,169.5 1638.6,169.8 1640.6,170.1 1642.6,170.4 1644.6,170.8 1646.6,171.1 1648.7,171.4 1650.7,171.7 1652.7,172.0 1654.7,172.4 1656.7,172.7 1658.7,173.0 1660.8,173.3 1662.8,173.7 1664.8,174.0 1666.8,174.3 1668.8,174.6 1670.8,175.0 1672.8,175.3 1674.8,175.6 1676.8,176.0 1678.8,176.3 1680.8,176.6 1682.8,177.0 1684.8,177.3 1686.8,177.7 1688.7,178.0 1690.7,178.4 1692.7,178.7 1694.7,179.0 1696.7,179.4 1698.7,179.7 1700.7,180.1 1702.6,180.4 1704.6,180.8 1706.6,181.1 1708.6,181.5 1710.6,181.8 1712.6,182.2 1714.6,182.5 1716.6,182.8 1718.6,183.2 1720.6,183.5 1722.6,183.9 1724.6,184.2 1726.6,184.6 1728.6,184.9 1730.6,185.3 1732.6,185.6 1734.7,186.0 1736.7,186.3 1738.7,186.6 1740.7,187.0 1742.7,187.3 1744.7,187.7 1746.7,188.0 1748.7,188.4 1750.8,188.7 1752.8,189.1 1754.8,189.4 1756.8,189.8 1758.8,190.2 1760.8,190.5 1762.9,190.9 1764.9,191.2 1766.9,191.5 1768.9,191.9 1770.9,192.2 1773.0,192.6 1775.0,192.9 1777.0,193.3 1779.0,193.6 1781.1,194.0 1783.1,194.3 1785.1,194.7 1787.1,195.1 1789.1,195.4 1791.2,195.8 1793.2,196.2 1795.2,196.6 1797.2,197.0 1799.2,197.4 1801.2,197.8 1803.2,198.2 1805.2,198.7 1807.2,199.1 1809.2,199.6 1811.2,200.1 1813.2,200.6 1815.2,201.0 1817.1,201.5 1819.1,202.0 1821.1,202.5 1823.1,203.0 1825.1,203.5 1827.1,204.0 1829.1,204.5 1831.0,204.9 1833.0,205.4 1835.0,205.9 1837.0,206.3 1839.0,206.8 1841.0,207.2 1843.0,207.6 1845.0,208.0 1847.0,208.4 1849.0,208.8 1851.0,209.2 1853.0,209.5 1855.0,209.9 1857.0,210.3 1859.0,210.6 1861.0,211.0 1863.0,211.3 1865.0,211.7 1867.0,212.1 1869.0,212.4 1871.0,212.8 1873.0,213.2 1875.0,213.5 1877.0,213.9 1879.0,214.3 1881.0,214.8 1883.0,215.2 1885.0,215.6 1887.0,216.1 1889.0,216.6 1891.0,217.0 1893.0,217.5 1895.0,218.0 1896.9,218.5 1898.9,219.0 1900.9,219.5 1902.9,220.0 1904.9,220.6 1906.9,221.1 1908.9,221.6 1910.9,222.1 1912.9,222.6 1914.8,223.1 1916.8,223.7 1918.8,224.2 1920.8,224.7 1922.8,225.2 1924.8,225.7 1926.8,226.2 1928.8,226.7 1930.8,227.2 1932.8,227.6 1934.8,228.1 1936.7,228.6 1938.7,229.0 1940.7,229.5 1942.7,229.9 1944.7,230.4 1946.7,230.9 1948.7,231.4 1950.7,231.8 1952.7,232.3 1954.7,232.9 1956.7,233.4 1958.7,233.9 1960.7,234.4 1962.7,235.0 1964.7,235.6 1966.7,236.2 1968.6,236.8 1970.6,237.4 1972.6,238.1 1974.7,238.7 1976.7,239.4 1978.8,240.1 1980.9,240.8 1983.0,241.5 1985.1,242.3 1987.2,243.0 1989.2,243.7 1991.3,244.5 1993.3,245.2 1995.2,245.9 1997.2,246.7 1999.1,247.4 2000.9,248.1 2002.7,248.8 2004.4,249.5 2006.1,250.2 2007.6,250.9 2009.1,251.5 2011.6,252.6 2013.8,253.7 2015.8,254.7 2017.7,255.7 2019.3,256.7 2020.9,257.6 2022.4,258.6 2023.8,259.6 2025.3,260.6 2026.8,261.7 2028.3,262.8 2030.0,264.0 2031.6,265.2 2033.2,266.4 2034.8,267.6 2036.5,268.9 2038.1,270.2 2039.7,271.5 2041.3,272.8 2042.9,274.2 2044.5,275.5 2046.2,276.9 2047.8,278.3 2049.4,279.6 2051.0,281.0 2052.6,282.3 2054.2,283.7 2055.8,285.0 2057.4,286.4 2059.0,287.8 2060.6,289.1 2062.3,290.5 2063.9,291.9 2065.5,293.3 2067.1,294.7 2068.7,296.1 2070.4,297.5 2072.0,299.0 2073.5,300.4 2075.1,301.7 2076.6,303.1 2078.1,304.4 2079.7,305.8 2081.2,307.2 2082.8,308.6 2084.4,310.0 2085.9,311.4 2087.5,312.9 2089.1,314.4 2090.6,316.0 2092.2,317.6 2093.8,319.2 2095.1,320.6 2096.5,321.9 2097.8,323.3 2099.2,324.6 2100.5,326.0 2101.9,327.4 2103.3,328.8 2104.6,330.2 2106.0,331.7 2107.4,333.2 2108.7,334.8 2110.1,336.4 2111.4,338.1 2112.7,339.9 2114.0,341.8 2115.3,343.7 2116.5,345.7 2117.4,347.2 2118.3,348.8 2119.2,350.4 2120.0,352.1 2120.9,353.7 2121.8,355.4 2122.6,357.2 2123.5,358.9 2124.3,360.7 2125.1,362.6 2125.9,364.4 2126.8,366.3 2127.6,368.3 2128.4,370.2 2129.2,372.2 2130.0,374.3 2130.8,376.3 2131.6,378.4 2132.3,380.6 2133.1,382.8 2133.9,385.0 2134.7,387.2 2135.5,389.5 2136.1,391.2 2136.6,392.9 2137.2,394.7 2137.8,396.5 2138.3,398.4 2138.9,400.3 2139.5,402.2 2140.0,404.2 2140.6,406.2 2141.2,408.2 2141.7,410.2 2142.3,412.3 2142.9,414.3 2143.4,416.4 2144.0,418.5 2144.5,420.6 2145.1,422.7 2145.6,424.7 2146.2,426.8 2146.7,428.9 2147.2,430.9 2147.7,433.0 2148.3,435.0 2148.8,436.9 2149.3,438.9 2149.8,440.8 2150.3,442.7 2150.8,444.6 2151.3,446.4 2151.8,448.1 2152.2,449.8 2152.7,451.5 2153.4,453.8 2154.0,456.1 2154.6,458.3 2155.2,460.4 2155.8,462.4 2156.4,464.5 2157.0,466.4 2157.5,468.3 2158.1,470.2 2158.6,472.0 2159.1,473.9 2159.7,475.7 2160.2,477.5 2160.7,479.2 2161.2,481.0 2161.8,482.8 2162.3,484.6 2162.8,486.4 2163.4,488.3 2163.9,490.1 2164.4,492.1 2165.0,494.0 2165.6,496.0 2166.1,498.0 2166.7,499.9 2167.3,501.9 2167.9,503.9 2168.5,505.9 2169.1,507.9 2169.8,509.9 2170.4,511.9 2171.0,513.9 2171.6,515.9 2172.2,518.0 2172.8,520.0 2173.3,522.0 2173.9,524.0 2174.5,526.0 2175.0,528.1 2175.5,530.1 2176.0,532.1 2176.5,534.1 2177.0,536.2 2177.4,538.2 2177.8,540.2 2178.2,542.1 2178.6,544.0 2178.9,545.9 2179.2,547.7 2179.6,549.6 2179.9,551.4 2180.1,553.2 2180.4,555.0 2180.7,556.8 2180.9,558.7 2181.2,560.5 2181.4,562.5 2181.7,564.5 2181.9,566.5 2182.2,568.6 2182.4,570.8 2182.6,573.1 2182.9,575.5 2183.2,578.0 2183.4,580.6 2183.7,583.3 2183.9,584.9 2184.0,586.5 2184.2,588.2 2184.3,589.9 2184.5,591.7 2184.7,593.5 2184.8,595.3 2185.0,597.1 2185.1,599.0 2185.3,600.9 2185.5,602.9 2185.6,604.8 2185.8,606.8 2185.9,608.8 2186.1,610.8 2186.3,612.9 2186.4,614.9 2186.6,617.0 2186.7,619.1 2186.9,621.2 2187.0,623.3 2187.2,625.4 2187.4,627.6 2187.5,629.7 2187.7,631.8 2187.8,634.0 2188.0,636.1 2188.2,638.2 2188.3,640.4 2188.5,642.5 2188.6,644.6 2188.8,646.7 2188.9,648.8 2189.1,650.9 2189.3,653.0 2189.4,655.0 2189.6,657.1 2189.7,659.1 2189.9,661.1 2190.1,663.1 2190.2,665.1 2190.4,667.2 2190.5,669.2 2190.7,671.3 2190.9,673.4 2191.0,675.5 2191.2,677.6 2191.3,679.7 2191.5,681.8 2191.6,683.9 2191.8,686.1 2192.0,688.2 2192.1,690.3 2192.3,692.4 2192.4,694.6 2192.6,696.7 2192.8,698.8 2192.9,700.9 2193.1,703.0 2193.2,705.1 2193.4,707.1 2193.6,709.2 2193.7,711.2 2193.9,713.3 2194.0,715.3 2194.2,717.3 2194.4,719.2 2194.5,721.2 2194.7,723.1 2194.8,725.0 2195.0,726.8 2195.1,728.6 2195.3,730.4 2195.5,732.2 2195.6,733.9 2195.8,735.6 2195.9,737.3 2196.1,738.9 2196.4,741.6 2196.6,744.2 2196.9,746.7 2197.2,749.2 2197.5,751.7 2197.8,754.1 2198.1,756.4 2198.4,758.6 2198.7,760.8 2199.0,763.0 2199.2,765.1 2199.5,767.1 2199.8,769.1 2200.1,771.0 2200.4,772.8 2200.6,774.6 2200.9,776.4 2201.2,778.0 2201.4,779.7 2201.6,781.2 2201.9,782.7 2202.1,784.2 2202.3,785.6 2202.8,789.2 2203.3,792.1 2203.8,794.5 2204.1,796.4 2204.5,798.0 2204.8,799.4 2205.2,800.7 2205.5,802.0 2206.8,806.1 2207.9,807.4 2209.0,806.1 2210.0,802.0 2210.2,800.7 2210.4,799.4 2210.6,798.0 2210.8,796.4 2210.9,794.5 2211.1,792.1 2211.4,789.2 2211.7,785.6 2211.8,784.2 2211.9,782.7 2212.1,781.1 2212.2,779.4 2212.4,777.7 2212.5,775.9 2212.7,774.0 2212.8,772.1 2213.0,770.1 2213.2,768.1 2213.3,766.0 2213.5,763.8 2213.7,761.7 2213.8,759.5 2214.0,757.3 2214.2,755.0 2214.4,752.7 2214.5,750.4 2214.7,748.1 2214.9,745.8 2215.1,743.5 2215.2,741.2 2215.4,738.9 2215.5,737.1 2215.7,735.2 2215.8,733.3 2216.0,731.3 2216.1,729.3 2216.2,727.3 2216.4,725.3 2216.5,723.2 2216.7,721.2 2216.8,719.1 2217.0,717.0 2217.1,714.9 2217.3,712.7 2217.4,710.6 2217.6,708.5 2217.7,706.3 2217.9,704.2 2218.0,702.1 2218.1,700.0 2218.3,697.9 2218.4,695.8 2218.6,693.7 2218.7,691.6 2218.8,689.6 2218.9,687.6 2219.1,685.6 2219.2,683.6 2219.3,681.7 2219.4,679.8 2219.5,677.6 2219.6,675.4 2219.8,673.2 2219.9,671.1 2220.0,669.0 2220.1,667.0 2220.2,665.0 2220.3,663.0 2220.3,661.0 2220.4,659.0 2220.5,657.1 2220.6,655.1 2220.7,653.1 2220.8,651.2 2220.8,649.2 2220.9,647.2 2221.0,645.2 2221.1,643.1 2221.2,641.0 2221.2,638.9 2221.3,636.8 2221.4,634.6 2221.5,632.3 2221.6,630.0 2221.7,628.2 2221.8,626.4 2221.8,624.5 2221.9,622.7 2222.0,620.8 2222.1,619.0 2222.1,617.1 2222.2,615.2 2222.3,613.3 2222.4,611.4 2222.5,609.5 2222.5,607.5 2222.6,605.6 2222.7,603.6 2222.8,601.6 2222.9,599.7 2223.0,597.6 2223.0,595.6 2223.1,593.6 2223.2,591.5 2223.3,589.5 2223.4,587.4 2223.4,585.3 2223.5,583.1 2223.6,581.0 2223.7,578.9 2223.8,576.7 2223.9,574.5 2223.9,572.3 2224.0,570.0 2224.1,567.8 2224.2,565.9 2224.2,564.0 2224.3,562.1 2224.4,560.1 2224.4,558.1 2224.5,556.1 2224.6,554.0 2224.6,552.0 2224.7,549.9 2224.7,547.7 2224.8,545.6 2224.9,543.4 2224.9,541.3 2225.0,539.1 2225.1,536.9 2225.1,534.7 2225.2,532.5 2225.3,530.3 2225.3,528.1 2225.4,525.9 2225.5,523.8 2225.5,521.6 2225.6,519.4 2225.6,517.3 2225.7,515.2 2225.8,513.0 2225.8,511.0 2225.9,508.9 2226.0,506.8 2226.0,504.8 2226.1,502.8 2226.2,500.9 2226.3,499.0 2226.3,497.1 2226.4,495.3 2226.5,493.5 2226.5,491.7 2226.6,490.0 2226.7,487.5 2226.8,485.1 2226.9,482.7 2227.0,480.4 2227.1,478.2 2227.3,476.1 2227.4,474.0 2227.5,471.9 2227.6,469.9 2227.7,468.0 2227.8,466.0 2227.9,464.1 2228.1,462.3 2228.2,460.4 2228.3,458.6 2228.4,456.8 2228.5,455.0 2228.6,453.1 2228.8,451.3 2228.9,449.5 2229.0,447.6 2229.1,445.8 2229.3,443.9 2229.4,442.0 2229.5,440.0 2229.6,437.9 2229.8,435.9 2229.9,433.8 2230.0,431.7 2230.1,429.6 2230.3,427.5 2230.4,425.4 2230.5,423.3 2230.7,421.2 2230.8,419.1 2230.9,417.0 2231.1,414.9 2231.2,412.9 2231.3,410.8 2231.5,408.7 2231.6,406.7 2231.8,404.7 2231.9,402.7 2232.0,400.7 2232.2,398.7 2232.3,396.7 2232.5,394.8 2232.6,392.9 2232.8,391.0 2233.0,388.8 2233.2,386.5 2233.4,384.4 2233.6,382.2 2233.8,380.0 2234.0,377.9 2234.2,375.8 2234.4,373.7 2234.6,371.6 2234.8,369.6 2235.0,367.6 2235.2,365.5 2235.4,363.6 2235.7,361.6 2235.9,359.6 2236.1,357.7 2236.3,355.7 2236.6,353.8 2236.8,351.9 2237.0,350.0 2237.3,347.8 2237.6,345.5 2237.8,343.3 2238.1,341.1 2238.4,338.9 2238.7,336.7 2239.0,334.5 2239.3,332.4 2239.6,330.3 2239.9,328.2 2240.2,326.2 2240.5,324.3 2240.8,322.4 2241.1,320.5 2241.3,318.8 2241.6,317.1 2241.8,315.5 2242.2,312.7 2242.5,310.2 2242.8,308.0 2243.1,305.9 2243.4,304.0 2243.6,302.2 2243.9,300.5 2244.2,298.8 2244.5,297.0 2244.9,294.7 2245.3,292.5 2245.8,290.4 2246.2,288.3 2246.7,286.4 2247.1,284.7 2247.6,283.1 2248.7,280.1 2249.8,277.9 2251.0,276.0 2252.3,274.2 2253.8,272.7 2255.5,271.2 2257.0,269.8 2258.6,268.4 2260.3,267.1 2262.0,266.0 2262.5,265.1 2262.9,264.6 2268.7,264.2 2269.9,264.2 2271.3,264.1 2272.9,264.1 2274.7,264.1 2276.5,264.0 2278.6,264.0 2280.7,264.0 2282.9,264.0 2285.2,263.9 2287.5,263.9 2289.9,263.9 2292.4,263.9 2294.8,263.9 2297.3,263.9 2299.8,263.9 2302.2,263.9 2304.6,263.9 2306.9,263.9 2309.2,263.9 2311.4,263.9 2313.5,263.9 2315.4,263.9 2317.3,263.9 2319.0,263.9 2320.5,264.0 2321.8,264.0 2323.0,264.0 2327.5,264.8 2326.0,265.6 2328.2,265.7 2330.9,265.7 2332.8,265.7" fill="none" stroke="#00C46E" stroke-width="2" stroke-linejoin="round" stroke-linecap="butt"/>
<polygon points="1413.2,128.3 1427.2,128.3 1420.2,141.3" fill="#00C46E"/><polygon points="1455.3,133.9 1469.3,133.9 1462.3,146.9" fill="#00C46E"/><polygon points="1497.4,140.8 1511.4,140.8 1504.4,153.8" fill="#00C46E"/><polygon points="1539.5,148.7 1553.5,148.7 1546.5,161.7" fill="#00C46E"/><polygon points="1581.6,157.0 1595.6,157.0 1588.6,170.0" fill="#00C46E"/><polygon points="1623.7,163.8 1637.7,163.8 1630.7,176.8" fill="#00C46E"/><polygon points="1665.8,170.6 1679.8,170.6 1672.8,183.6" fill="#00C46E"/><polygon points="1707.9,177.9 1721.9,177.9 1714.9,190.9" fill="#00C46E"/><polygon points="1750.0,185.1 1764.0,185.1 1757.0,198.1" fill="#00C46E"/><polygon points="1792.1,192.7 1806.1,192.7 1799.1,205.7" fill="#00C46E"/><polygon points="1834.2,202.5 1848.2,202.5 1841.2,215.5" fill="#00C46E"/><polygon points="1876.3,210.6 1890.3,210.6 1883.3,223.6" fill="#00C46E"/><polygon points="1918.4,221.1 1932.4,221.1 1925.4,234.1" fill="#00C46E"/><polygon points="1960.5,231.7 1974.5,231.7 1967.5,244.7" fill="#00C46E"/><polygon points="2002.6,247.0 2016.6,247.0 2009.6,260.0" fill="#00C46E"/><polygon points="2044.7,276.9 2058.7,276.9 2051.7,289.9" fill="#00C46E"/><polygon points="2086.8,314.5 2100.8,314.5 2093.8,327.5" fill="#00C46E"/><polygon points="2128.9,386.0 2142.9,386.0 2135.9,399.0" fill="#00C46E"/><polygon points="2170.4,533.5 2184.4,533.5 2177.4,546.5" fill="#00C46E"/><polygon points="2212.4,675.1 2226.4,675.1 2219.4,688.1" fill="#00C46E"/><polygon points="2255.2,260.9 2269.2,260.9 2262.2,273.9" fill="#00C46E"/><polygon points="2297.3,259.2 2311.3,259.2 2304.3,272.2" fill="#00C46E"/>
</g>
<rect x="253.5" y="463.9" width="452.3" height="217.8" fill="#fff" stroke="#1a1a1a" stroke-width="2"/>
<line x1="258.7" y1="493.2" x2="354.6" y2="493.2" stroke="#FF0000" stroke-width="1.9"/>
<rect x="302.3" y="489.1" width="8.2" height="8.2" fill="#FF0000"/>
<text x="367.0" y="506.2" font-size="43.4">PP</text>
<line x1="258.7" y1="545.3" x2="354.6" y2="545.3" stroke="#12609E" stroke-width="1.9"/>
<circle cx="306.4" cy="545.3" r="4.8" fill="#12609E"/>
<text x="367.0" y="560.3" font-size="43.4">PP-Bag.</text>
<line x1="258.7" y1="599.4" x2="354.6" y2="599.4" stroke="#FFC000" stroke-width="1.9"/>
<polygon points="299.5,603.9 313.3,603.9 306.4,592.1" fill="#FFC000"/>
<text x="367.0" y="612.6" font-size="43.4">PP-Bag.+alk.</text>
<line x1="258.7" y1="653.2" x2="354.6" y2="653.2" stroke="#00C46E" stroke-width="1.9"/>
<polygon points="299.8,648.7 313.0,648.7 306.4,661.1" fill="#00C46E"/>
<text x="367.0" y="666.3" font-size="43.4">PP-Bag.+alk.+sil.</text>
<rect x="1457.5" y="469.4" width="452.9" height="217.8" fill="#fff" stroke="#1a1a1a" stroke-width="2"/>
<line x1="1462.9" y1="499.6" x2="1558.7" y2="499.6" stroke="#FF0000" stroke-width="1.9"/>
<rect x="1506.7" y="495.5" width="8.2" height="8.2" fill="#FF0000"/>
<text x="1570.6" y="512.5" font-size="43.4">PP</text>
<line x1="1462.9" y1="551.5" x2="1558.7" y2="551.5" stroke="#12609E" stroke-width="1.9"/>
<circle cx="1510.8" cy="551.5" r="4.8" fill="#12609E"/>
<text x="1570.6" y="566.1" font-size="43.4">PP-Bag.</text>
<line x1="1462.9" y1="605.3" x2="1558.7" y2="605.3" stroke="#FFC000" stroke-width="1.9"/>
<polygon points="1503.9,609.8 1517.7,609.8 1510.8,598.0" fill="#FFC000"/>
<text x="1570.6" y="618.3" font-size="43.4">PP-Bag.+alk.</text>
<line x1="1462.9" y1="659.4" x2="1558.7" y2="659.4" stroke="#00C46E" stroke-width="1.9"/>
<polygon points="1504.1,654.9 1517.5,654.9 1510.8,667.3" fill="#00C46E"/>
<text x="1570.6" y="671.9" font-size="43.4">PP-Bag.+alk.+sil.</text>
<text transform="translate(63.6,421.9) rotate(-90)" text-anchor="middle" font-size="61.4">Heat Flow (W/g)</text>
<text transform="translate(1284.3,484.4) rotate(-90)" text-anchor="middle" font-size="61.4">Heat Flow (W/g)</text>
<text x="477" y="1025.3" font-size="62">Temperature (°C)</text>
<text x="1703" y="1027.4" font-size="62">Temperature (°C)</text>
<text x="215" y="86.3" font-size="56" font-weight="bold">a)</text>
<text x="1437.5" y="84.8" font-size="56.5" font-weight="bold">b)</text>
<text transform="translate(70.1,63.5) rotate(-90)" text-anchor="middle" font-size="44">Exo</text>
<line x1="91.4" y1="104" x2="91.4" y2="39.2" stroke="#000" stroke-width="2"/>
<polygon points="85.4,45.7 97.4,45.7 91.4,24.2" fill="#000"/>
<text transform="translate(1278.7,58.3) rotate(-90)" text-anchor="middle" font-size="44">Exo</text>
<line x1="1299.5" y1="99.9" x2="1299.5" y2="35.1" stroke="#000" stroke-width="2"/>
<polygon points="1293.5,41.6 1305.5,41.6 1299.5,20.1" fill="#000"/>
</svg></body></html>
